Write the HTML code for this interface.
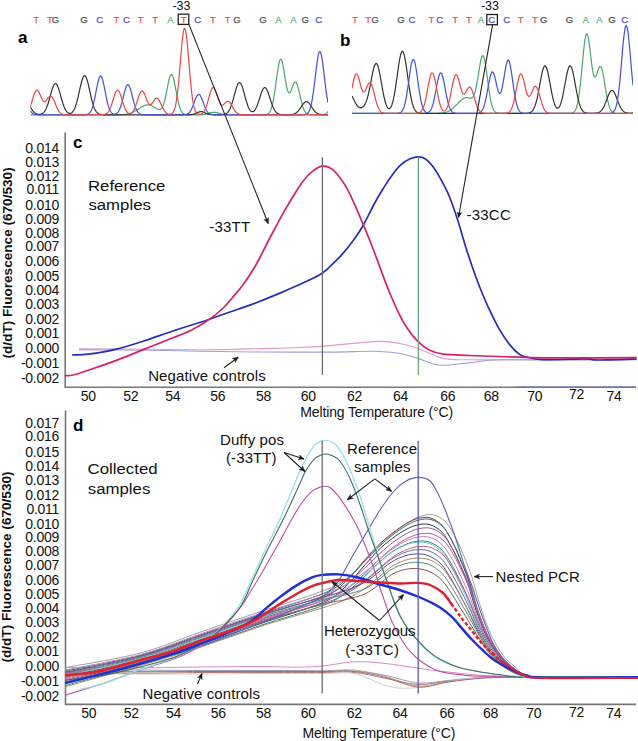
<!DOCTYPE html>
<html><head><meta charset="utf-8"><style>
html,body{margin:0;padding:0;background:#fff;width:638px;height:741px;overflow:hidden}
svg text{font-family:"Liberation Sans",sans-serif}
</style></head><body>
<svg width="638" height="741" viewBox="0 0 638 741" style="position:absolute;left:0;top:0">
<defs><clipPath id="ca"><rect x="30.5" y="0" width="297.5" height="120"/></clipPath><clipPath id="cb"><rect x="352" y="0" width="281" height="120"/></clipPath><marker id="ah" viewBox="0 0 10 10" refX="9.5" refY="5" markerWidth="5.4" markerHeight="5.4" orient="auto-start-reverse"><path d="M0,0.8 L10,5 L0,9.2 L2.8,5 z" fill="#1a1a1a" stroke="#1a1a1a" stroke-width="0.6" stroke-linejoin="round"/></marker></defs>
<path clip-path="url(#ca)" d="M29.0,114.8 L29.5,114.8 L30.0,114.8 L30.5,114.8 L31.0,114.8 L31.5,114.8 L32.0,114.8 L32.5,114.8 L33.0,114.8 L33.5,114.8 L34.0,114.8 L34.5,114.8 L35.0,114.8 L35.5,114.8 L36.0,114.8 L36.5,114.8 L37.0,114.8 L37.5,114.8 L38.0,114.8 L38.5,114.8 L39.0,114.8 L39.5,114.8 L40.0,114.8 L40.5,114.8 L41.0,114.8 L41.5,114.8 L42.0,114.8 L42.5,114.8 L43.0,114.8 L43.5,114.8 L44.0,114.8 L44.5,114.8 L45.0,114.8 L45.5,114.8 L46.0,114.8 L46.5,114.8 L47.0,114.8 L47.5,114.8 L48.0,114.8 L48.5,114.8 L49.0,114.8 L49.5,114.8 L50.0,114.8 L50.5,114.8 L51.0,114.8 L51.5,114.8 L52.0,114.8 L52.5,114.8 L53.0,114.8 L53.5,114.8 L54.0,114.8 L54.5,114.8 L55.0,114.8 L55.5,114.8 L56.0,114.8 L56.5,114.8 L57.0,114.8 L57.5,114.8 L58.0,114.8 L58.5,114.8 L59.0,114.8 L59.5,114.8 L60.0,114.8 L60.5,114.8 L61.0,114.8 L61.5,114.8 L62.0,114.8 L62.5,114.8 L63.0,114.8 L63.5,114.8 L64.0,114.8 L64.5,114.8 L65.0,114.8 L65.5,114.8 L66.0,114.8 L66.5,114.8 L67.0,114.8 L67.5,114.8 L68.0,114.8 L68.5,114.8 L69.0,114.8 L69.5,114.8 L70.0,114.8 L70.5,114.8 L71.0,114.8 L71.5,114.8 L72.0,114.8 L72.5,114.8 L73.0,114.8 L73.5,114.8 L74.0,114.8 L74.5,114.8 L75.0,114.8 L75.5,114.8 L76.0,114.8 L76.5,114.8 L77.0,114.8 L77.5,114.8 L78.0,114.8 L78.5,114.8 L79.0,114.8 L79.5,114.8 L80.0,114.8 L80.5,114.8 L81.0,114.8 L81.5,114.8 L82.0,114.8 L82.5,114.8 L83.0,114.8 L83.5,114.8 L84.0,114.8 L84.5,114.8 L85.0,114.8 L85.5,114.8 L86.0,114.8 L86.5,114.8 L87.0,114.8 L87.5,114.8 L88.0,114.8 L88.5,114.8 L89.0,114.8 L89.5,114.8 L90.0,114.8 L90.5,114.8 L91.0,114.8 L91.5,114.8 L92.0,114.8 L92.5,114.8 L93.0,114.8 L93.5,114.8 L94.0,114.8 L94.5,114.8 L95.0,114.8 L95.5,114.8 L96.0,114.8 L96.5,114.8 L97.0,114.8 L97.5,114.8 L98.0,114.8 L98.5,114.8 L99.0,114.8 L99.5,114.8 L100.0,114.8 L100.5,114.8 L101.0,114.8 L101.5,114.8 L102.0,114.8 L102.5,114.8 L103.0,114.8 L103.5,114.8 L104.0,114.8 L104.5,114.8 L105.0,114.8 L105.5,114.8 L106.0,114.8 L106.5,114.8 L107.0,114.8 L107.5,114.8 L108.0,114.8 L108.5,114.8 L109.0,114.8 L109.5,114.8 L110.0,114.8 L110.5,114.8 L111.0,114.8 L111.5,114.8 L112.0,114.8 L112.5,114.8 L113.0,114.8 L113.5,114.8 L114.0,114.8 L114.5,114.8 L115.0,114.8 L115.5,114.8 L116.0,114.8 L116.5,114.8 L117.0,114.8 L117.5,114.8 L118.0,114.8 L118.5,114.7 L119.0,114.7 L119.5,114.7 L120.0,114.7 L120.5,114.7 L121.0,114.7 L121.5,114.7 L122.0,114.6 L122.5,114.6 L123.0,114.6 L123.5,114.5 L124.0,114.5 L124.5,114.4 L125.0,114.4 L125.5,114.3 L126.0,114.3 L126.5,114.2 L127.0,114.1 L127.5,114.0 L128.0,113.9 L128.5,113.8 L129.0,113.7 L129.5,113.5 L130.0,113.4 L130.5,113.2 L131.0,113.0 L131.5,112.8 L132.0,112.6 L132.5,112.4 L133.0,112.2 L133.5,111.9 L134.0,111.7 L134.5,111.4 L135.0,111.1 L135.5,110.8 L136.0,110.5 L136.5,110.2 L137.0,109.9 L137.5,109.6 L138.0,109.3 L138.5,108.9 L139.0,108.6 L139.5,108.3 L140.0,107.9 L140.5,107.6 L141.0,107.3 L141.5,107.0 L142.0,106.7 L142.5,106.4 L143.0,106.2 L143.5,105.9 L144.0,105.7 L144.5,105.5 L145.0,105.3 L145.5,105.2 L146.0,105.1 L146.5,105.0 L147.0,104.9 L147.5,104.9 L148.0,104.9 L148.5,104.9 L149.0,105.0 L149.5,105.1 L150.0,105.2 L150.5,105.4 L151.0,105.5 L151.5,105.7 L152.0,106.0 L152.5,106.2 L153.0,106.5 L153.5,106.7 L154.0,107.0 L154.5,107.3 L155.0,107.6 L155.5,107.9 L156.0,108.2 L156.5,108.5 L157.0,108.8 L157.5,109.0 L158.0,109.2 L158.5,109.4 L159.0,109.5 L159.5,109.5 L160.0,109.4 L160.5,109.2 L161.0,108.8 L161.5,108.4 L162.0,107.7 L162.5,106.8 L163.0,105.7 L163.5,104.4 L164.0,102.9 L164.5,101.1 L165.0,99.1 L165.5,97.0 L166.0,94.6 L166.5,92.1 L167.0,89.5 L167.5,87.0 L168.0,84.5 L168.5,82.1 L169.0,79.9 L169.5,78.0 L170.0,76.5 L170.5,75.4 L171.0,74.7 L171.5,74.5 L172.0,74.8 L172.5,75.6 L173.0,76.8 L173.5,78.4 L174.0,80.4 L174.5,82.7 L175.0,85.1 L175.5,87.8 L176.0,90.5 L176.5,93.2 L177.0,95.8 L177.5,98.3 L178.0,100.7 L178.5,102.8 L179.0,104.8 L179.5,106.5 L180.0,108.1 L180.5,109.4 L181.0,110.5 L181.5,111.4 L182.0,112.2 L182.5,112.8 L183.0,113.3 L183.5,113.7 L184.0,114.0 L184.5,114.2 L185.0,114.4 L185.5,114.5 L186.0,114.6 L186.5,114.6 L187.0,114.7 L187.5,114.7 L188.0,114.8 L188.5,114.8 L189.0,114.8 L189.5,114.8 L190.0,114.8 L190.5,114.8 L191.0,114.8 L191.5,114.8 L192.0,114.8 L192.5,114.8 L193.0,114.8 L193.5,114.8 L194.0,114.8 L194.5,114.8 L195.0,114.8 L195.5,114.8 L196.0,114.8 L196.5,114.8 L197.0,114.8 L197.5,114.8 L198.0,114.8 L198.5,114.8 L199.0,114.8 L199.5,114.8 L200.0,114.8 L200.5,114.7 L201.0,114.7 L201.5,114.7 L202.0,114.7 L202.5,114.6 L203.0,114.6 L203.5,114.5 L204.0,114.5 L204.5,114.4 L205.0,114.3 L205.5,114.2 L206.0,114.1 L206.5,114.0 L207.0,113.9 L207.5,113.7 L208.0,113.6 L208.5,113.4 L209.0,113.3 L209.5,113.1 L210.0,113.0 L210.5,112.8 L211.0,112.7 L211.5,112.6 L212.0,112.5 L212.5,112.4 L213.0,112.3 L213.5,112.3 L214.0,112.3 L214.5,112.3 L215.0,112.3 L215.5,112.4 L216.0,112.5 L216.5,112.6 L217.0,112.7 L217.5,112.8 L218.0,113.0 L218.5,113.1 L219.0,113.3 L219.5,113.4 L220.0,113.6 L220.5,113.7 L221.0,113.9 L221.5,114.0 L222.0,114.1 L222.5,114.2 L223.0,114.3 L223.5,114.4 L224.0,114.5 L224.5,114.5 L225.0,114.6 L225.5,114.6 L226.0,114.7 L226.5,114.7 L227.0,114.7 L227.5,114.7 L228.0,114.8 L228.5,114.8 L229.0,114.8 L229.5,114.8 L230.0,114.8 L230.5,114.8 L231.0,114.8 L231.5,114.8 L232.0,114.8 L232.5,114.8 L233.0,114.8 L233.5,114.8 L234.0,114.8 L234.5,114.8 L235.0,114.8 L235.5,114.8 L236.0,114.8 L236.5,114.8 L237.0,114.8 L237.5,114.8 L238.0,114.8 L238.5,114.8 L239.0,114.8 L239.5,114.8 L240.0,114.8 L240.5,114.8 L241.0,114.8 L241.5,114.8 L242.0,114.8 L242.5,114.8 L243.0,114.8 L243.5,114.8 L244.0,114.8 L244.5,114.8 L245.0,114.8 L245.5,114.8 L246.0,114.8 L246.5,114.8 L247.0,114.8 L247.5,114.8 L248.0,114.8 L248.5,114.8 L249.0,114.8 L249.5,114.8 L250.0,114.8 L250.5,114.8 L251.0,114.8 L251.5,114.8 L252.0,114.8 L252.5,114.8 L253.0,114.8 L253.5,114.8 L254.0,114.8 L254.5,114.8 L255.0,114.8 L255.5,114.8 L256.0,114.8 L256.5,114.8 L257.0,114.8 L257.5,114.8 L258.0,114.8 L258.5,114.8 L259.0,114.8 L259.5,114.8 L260.0,114.8 L260.5,114.8 L261.0,114.8 L261.5,114.8 L262.0,114.8 L262.5,114.8 L263.0,114.8 L263.5,114.8 L264.0,114.7 L264.5,114.7 L265.0,114.7 L265.5,114.6 L266.0,114.5 L266.5,114.4 L267.0,114.3 L267.5,114.0 L268.0,113.8 L268.5,113.4 L269.0,112.9 L269.5,112.3 L270.0,111.5 L270.5,110.6 L271.0,109.4 L271.5,107.9 L272.0,106.3 L272.5,104.3 L273.0,102.0 L273.5,99.4 L274.0,96.5 L274.5,93.4 L275.0,90.0 L275.5,86.4 L276.0,82.7 L276.5,79.0 L277.0,75.3 L277.5,71.8 L278.0,68.5 L278.5,65.6 L279.0,63.2 L279.5,61.3 L280.0,60.0 L280.5,59.3 L281.0,59.3 L281.5,60.0 L282.0,61.3 L282.5,63.1 L283.0,65.5 L283.5,68.2 L284.0,71.1 L284.5,74.3 L285.0,77.5 L285.5,80.5 L286.0,83.4 L286.5,86.1 L287.0,88.3 L287.5,90.2 L288.0,91.5 L288.5,92.4 L289.0,92.9 L289.5,92.9 L290.0,92.4 L290.5,91.7 L291.0,90.6 L291.5,89.4 L292.0,88.0 L292.5,86.6 L293.0,85.3 L293.5,84.1 L294.0,83.1 L294.5,82.4 L295.0,82.1 L295.5,82.1 L296.0,82.4 L296.5,83.1 L297.0,84.2 L297.5,85.6 L298.0,87.3 L298.5,89.1 L299.0,91.2 L299.5,93.3 L300.0,95.5 L300.5,97.7 L301.0,99.8 L301.5,101.8 L302.0,103.7 L302.5,105.4 L303.0,107.0 L303.5,108.4 L304.0,109.6 L304.5,110.6 L305.0,111.5 L305.5,112.2 L306.0,112.8 L306.5,113.2 L307.0,113.6 L307.5,113.9 L308.0,114.2 L308.5,114.3 L309.0,114.5 L309.5,114.6 L310.0,114.6 L310.5,114.7 L311.0,114.7 L311.5,114.7 L312.0,114.8 L312.5,114.8 L313.0,114.8 L313.5,114.8 L314.0,114.8 L314.5,114.8 L315.0,114.8 L315.5,114.8 L316.0,114.8 L316.5,114.8 L317.0,114.8 L317.5,114.8 L318.0,114.8 L318.5,114.8 L319.0,114.8 L319.5,114.8 L320.0,114.8 L320.5,114.8 L321.0,114.8 L321.5,114.8 L322.0,114.7 L322.5,114.7 L323.0,114.6 L323.5,114.6 L324.0,114.5 L324.5,114.4 L325.0,114.2 L325.5,114.0 L326.0,113.7 L326.5,113.3 L327.0,112.8 L327.5,112.2 L328.0,111.4" fill="none" stroke="#48a868" stroke-width="1.2"/>
<path clip-path="url(#ca)" d="M29.0,104.1 L29.5,105.1 L30.0,106.1 L30.5,107.0 L31.0,107.9 L31.5,108.8 L32.0,109.6 L32.5,110.3 L33.0,111.0 L33.5,111.6 L34.0,112.1 L34.5,112.6 L35.0,113.0 L35.5,113.3 L36.0,113.6 L36.5,113.8 L37.0,114.0 L37.5,114.1 L38.0,114.2 L38.5,114.3 L39.0,114.3 L39.5,114.3 L40.0,114.3 L40.5,114.2 L41.0,114.1 L41.5,113.9 L42.0,113.7 L42.5,113.4 L43.0,113.0 L43.5,112.6 L44.0,112.1 L44.5,111.5 L45.0,110.7 L45.5,109.9 L46.0,108.9 L46.5,107.8 L47.0,106.6 L47.5,105.2 L48.0,103.8 L48.5,102.2 L49.0,100.5 L49.5,98.8 L50.0,97.0 L50.5,95.1 L51.0,93.3 L51.5,91.6 L52.0,89.9 L52.5,88.4 L53.0,87.0 L53.5,85.8 L54.0,84.9 L54.5,84.2 L55.0,83.7 L55.5,83.6 L56.0,83.7 L56.5,84.2 L57.0,84.9 L57.5,85.8 L58.0,87.0 L58.5,88.4 L59.0,89.9 L59.5,91.6 L60.0,93.3 L60.5,95.1 L61.0,97.0 L61.5,98.8 L62.0,100.5 L62.5,102.2 L63.0,103.8 L63.5,105.2 L64.0,106.6 L64.5,107.8 L65.0,108.9 L65.5,109.8 L66.0,110.7 L66.5,111.4 L67.0,112.0 L67.5,112.4 L68.0,112.8 L68.5,113.1 L69.0,113.3 L69.5,113.4 L70.0,113.4 L70.5,113.3 L71.0,113.2 L71.5,112.9 L72.0,112.5 L72.5,112.0 L73.0,111.4 L73.5,110.7 L74.0,109.8 L74.5,108.8 L75.0,107.7 L75.5,106.3 L76.0,104.8 L76.5,103.2 L77.0,101.4 L77.5,99.4 L78.0,97.3 L78.5,95.1 L79.0,92.9 L79.5,90.6 L80.0,88.4 L80.5,86.1 L81.0,84.0 L81.5,82.1 L82.0,80.3 L82.5,78.8 L83.0,77.5 L83.5,76.6 L84.0,76.0 L84.5,75.7 L85.0,75.8 L85.5,76.3 L86.0,77.1 L86.5,78.2 L87.0,79.7 L87.5,81.3 L88.0,83.2 L88.5,85.3 L89.0,87.5 L89.5,89.7 L90.0,92.0 L90.5,94.3 L91.0,96.5 L91.5,98.6 L92.0,100.6 L92.5,102.5 L93.0,104.2 L93.5,105.8 L94.0,107.2 L94.5,108.4 L95.0,109.5 L95.5,110.5 L96.0,111.3 L96.5,111.9 L97.0,112.5 L97.5,113.0 L98.0,113.4 L98.5,113.7 L99.0,114.0 L99.5,114.2 L100.0,114.3 L100.5,114.4 L101.0,114.5 L101.5,114.6 L102.0,114.7 L102.5,114.7 L103.0,114.7 L103.5,114.7 L104.0,114.8 L104.5,114.8 L105.0,114.8 L105.5,114.8 L106.0,114.8 L106.5,114.8 L107.0,114.8 L107.5,114.8 L108.0,114.8 L108.5,114.8 L109.0,114.8 L109.5,114.8 L110.0,114.8 L110.5,114.8 L111.0,114.8 L111.5,114.8 L112.0,114.8 L112.5,114.8 L113.0,114.8 L113.5,114.8 L114.0,114.8 L114.5,114.8 L115.0,114.8 L115.5,114.8 L116.0,114.8 L116.5,114.8 L117.0,114.8 L117.5,114.8 L118.0,114.8 L118.5,114.8 L119.0,114.8 L119.5,114.8 L120.0,114.8 L120.5,114.8 L121.0,114.8 L121.5,114.8 L122.0,114.8 L122.5,114.8 L123.0,114.8 L123.5,114.8 L124.0,114.8 L124.5,114.8 L125.0,114.8 L125.5,114.8 L126.0,114.8 L126.5,114.8 L127.0,114.8 L127.5,114.8 L128.0,114.8 L128.5,114.8 L129.0,114.8 L129.5,114.8 L130.0,114.8 L130.5,114.8 L131.0,114.8 L131.5,114.8 L132.0,114.8 L132.5,114.8 L133.0,114.8 L133.5,114.8 L134.0,114.8 L134.5,114.8 L135.0,114.8 L135.5,114.8 L136.0,114.8 L136.5,114.8 L137.0,114.8 L137.5,114.8 L138.0,114.8 L138.5,114.8 L139.0,114.8 L139.5,114.8 L140.0,114.8 L140.5,114.8 L141.0,114.8 L141.5,114.8 L142.0,114.8 L142.5,114.8 L143.0,114.8 L143.5,114.8 L144.0,114.8 L144.5,114.8 L145.0,114.8 L145.5,114.8 L146.0,114.8 L146.5,114.8 L147.0,114.8 L147.5,114.8 L148.0,114.8 L148.5,114.8 L149.0,114.8 L149.5,114.8 L150.0,114.8 L150.5,114.8 L151.0,114.8 L151.5,114.8 L152.0,114.8 L152.5,114.8 L153.0,114.8 L153.5,114.8 L154.0,114.8 L154.5,114.8 L155.0,114.8 L155.5,114.8 L156.0,114.8 L156.5,114.8 L157.0,114.8 L157.5,114.8 L158.0,114.8 L158.5,114.8 L159.0,114.8 L159.5,114.8 L160.0,114.8 L160.5,114.8 L161.0,114.8 L161.5,114.8 L162.0,114.8 L162.5,114.8 L163.0,114.8 L163.5,114.8 L164.0,114.8 L164.5,114.8 L165.0,114.8 L165.5,114.8 L166.0,114.8 L166.5,114.8 L167.0,114.8 L167.5,114.8 L168.0,114.8 L168.5,114.8 L169.0,114.8 L169.5,114.8 L170.0,114.8 L170.5,114.8 L171.0,114.8 L171.5,114.8 L172.0,114.8 L172.5,114.8 L173.0,114.8 L173.5,114.8 L174.0,114.8 L174.5,114.8 L175.0,114.8 L175.5,114.8 L176.0,114.8 L176.5,114.8 L177.0,114.8 L177.5,114.8 L178.0,114.8 L178.5,114.8 L179.0,114.8 L179.5,114.8 L180.0,114.8 L180.5,114.8 L181.0,114.8 L181.5,114.8 L182.0,114.8 L182.5,114.8 L183.0,114.8 L183.5,114.8 L184.0,114.8 L184.5,114.8 L185.0,114.8 L185.5,114.8 L186.0,114.8 L186.5,114.8 L187.0,114.8 L187.5,114.8 L188.0,114.8 L188.5,114.8 L189.0,114.8 L189.5,114.7 L190.0,114.7 L190.5,114.7 L191.0,114.7 L191.5,114.6 L192.0,114.5 L192.5,114.5 L193.0,114.4 L193.5,114.2 L194.0,114.1 L194.5,113.9 L195.0,113.8 L195.5,113.6 L196.0,113.3 L196.5,113.1 L197.0,112.9 L197.5,112.6 L198.0,112.4 L198.5,112.2 L199.0,112.0 L199.5,111.8 L200.0,111.7 L200.5,111.6 L201.0,111.6 L201.5,111.6 L202.0,111.7 L202.5,111.8 L203.0,112.0 L203.5,112.2 L204.0,112.4 L204.5,112.6 L205.0,112.9 L205.5,113.1 L206.0,113.3 L206.5,113.6 L207.0,113.8 L207.5,113.9 L208.0,114.1 L208.5,114.2 L209.0,114.4 L209.5,114.5 L210.0,114.5 L210.5,114.6 L211.0,114.7 L211.5,114.7 L212.0,114.7 L212.5,114.7 L213.0,114.8 L213.5,114.8 L214.0,114.8 L214.5,114.8 L215.0,114.8 L215.5,114.8 L216.0,114.8 L216.5,114.8 L217.0,114.8 L217.5,114.8 L218.0,114.8 L218.5,114.8 L219.0,114.8 L219.5,114.8 L220.0,114.8 L220.5,114.8 L221.0,114.7 L221.5,114.7 L222.0,114.7 L222.5,114.6 L223.0,114.6 L223.5,114.5 L224.0,114.4 L224.5,114.3 L225.0,114.1 L225.5,113.9 L226.0,113.7 L226.5,113.4 L227.0,113.0 L227.5,112.6 L228.0,112.0 L228.5,111.4 L229.0,110.6 L229.5,109.7 L230.0,108.7 L230.5,107.6 L231.0,106.3 L231.5,104.9 L232.0,103.4 L232.5,101.8 L233.0,100.1 L233.5,98.3 L234.0,96.4 L234.5,94.5 L235.0,92.7 L235.5,90.8 L236.0,89.1 L236.5,87.5 L237.0,86.1 L237.5,84.9 L238.0,83.9 L238.5,83.2 L239.0,82.7 L239.5,82.6 L240.0,82.7 L240.5,83.2 L241.0,83.9 L241.5,84.9 L242.0,86.1 L242.5,87.5 L243.0,89.1 L243.5,90.8 L244.0,92.6 L244.5,94.5 L245.0,96.4 L245.5,98.2 L246.0,100.0 L246.5,101.7 L247.0,103.3 L247.5,104.8 L248.0,106.2 L248.5,107.4 L249.0,108.5 L249.5,109.4 L250.0,110.1 L250.5,110.7 L251.0,111.2 L251.5,111.5 L252.0,111.7 L252.5,111.7 L253.0,111.6 L253.5,111.4 L254.0,111.0 L254.5,110.5 L255.0,109.8 L255.5,109.0 L256.0,108.1 L256.5,107.0 L257.0,105.9 L257.5,104.6 L258.0,103.2 L258.5,101.7 L259.0,100.2 L259.5,98.6 L260.0,97.0 L260.5,95.5 L261.0,94.0 L261.5,92.6 L262.0,91.3 L262.5,90.1 L263.0,89.2 L263.5,88.4 L264.0,87.9 L264.5,87.6 L265.0,87.6 L265.5,87.8 L266.0,88.3 L266.5,89.0 L267.0,89.9 L267.5,91.0 L268.0,92.3 L268.5,93.7 L269.0,95.2 L269.5,96.7 L270.0,98.3 L270.5,99.9 L271.0,101.4 L271.5,102.9 L272.0,104.4 L272.5,105.7 L273.0,107.0 L273.5,108.1 L274.0,109.1 L274.5,110.0 L275.0,110.8 L275.5,111.5 L276.0,112.1 L276.5,112.6 L277.0,113.1 L277.5,113.4 L278.0,113.7 L278.5,114.0 L279.0,114.1 L279.5,114.3 L280.0,114.4 L280.5,114.5 L281.0,114.6 L281.5,114.6 L282.0,114.7 L282.5,114.7 L283.0,114.7 L283.5,114.8 L284.0,114.8 L284.5,114.8 L285.0,114.8 L285.5,114.8 L286.0,114.8 L286.5,114.8 L287.0,114.8 L287.5,114.8 L288.0,114.8 L288.5,114.8 L289.0,114.8 L289.5,114.7 L290.0,114.7 L290.5,114.7 L291.0,114.6 L291.5,114.6 L292.0,114.5 L292.5,114.4 L293.0,114.3 L293.5,114.2 L294.0,114.0 L294.5,113.8 L295.0,113.6 L295.5,113.3 L296.0,113.0 L296.5,112.7 L297.0,112.2 L297.5,111.8 L298.0,111.2 L298.5,110.7 L299.0,110.0 L299.5,109.4 L300.0,108.7 L300.5,107.9 L301.0,107.2 L301.5,106.4 L302.0,105.6 L302.5,104.9 L303.0,104.2 L303.5,103.6 L304.0,103.0 L304.5,102.5 L305.0,102.2 L305.5,101.9 L306.0,101.7 L306.5,101.7 L307.0,101.8 L307.5,102.0 L308.0,102.3 L308.5,102.7 L309.0,103.2 L309.5,103.8 L310.0,104.5 L310.5,105.2 L311.0,105.9 L311.5,106.7 L312.0,107.5 L312.5,108.2 L313.0,108.9 L313.5,109.6 L314.0,110.3 L314.5,110.9 L315.0,111.5 L315.5,112.0 L316.0,112.4 L316.5,112.8 L317.0,113.2 L317.5,113.5 L318.0,113.7 L318.5,113.9 L319.0,114.1 L319.5,114.3 L320.0,114.4 L320.5,114.5 L321.0,114.5 L321.5,114.6 L322.0,114.7 L322.5,114.7 L323.0,114.7 L323.5,114.7 L324.0,114.8 L324.5,114.8 L325.0,114.8 L325.5,114.8 L326.0,114.8 L326.5,114.8 L327.0,114.8 L327.5,114.8 L328.0,114.8" fill="none" stroke="#333333" stroke-width="1.2"/>
<path clip-path="url(#ca)" d="M29.0,108.6 L29.5,109.5 L30.0,110.3 L30.5,111.1 L31.0,111.7 L31.5,112.3 L32.0,112.8 L32.5,113.2 L33.0,113.5 L33.5,113.8 L34.0,114.0 L34.5,114.2 L35.0,114.4 L35.5,114.5 L36.0,114.6 L36.5,114.6 L37.0,114.7 L37.5,114.7 L38.0,114.7 L38.5,114.8 L39.0,114.8 L39.5,114.8 L40.0,114.8 L40.5,114.8 L41.0,114.8 L41.5,114.8 L42.0,114.8 L42.5,114.8 L43.0,114.8 L43.5,114.8 L44.0,114.8 L44.5,114.8 L45.0,114.8 L45.5,114.8 L46.0,114.8 L46.5,114.8 L47.0,114.8 L47.5,114.8 L48.0,114.8 L48.5,114.8 L49.0,114.8 L49.5,114.8 L50.0,114.8 L50.5,114.8 L51.0,114.8 L51.5,114.8 L52.0,114.8 L52.5,114.8 L53.0,114.8 L53.5,114.8 L54.0,114.8 L54.5,114.8 L55.0,114.8 L55.5,114.8 L56.0,114.8 L56.5,114.8 L57.0,114.8 L57.5,114.8 L58.0,114.8 L58.5,114.8 L59.0,114.8 L59.5,114.8 L60.0,114.8 L60.5,114.8 L61.0,114.8 L61.5,114.8 L62.0,114.8 L62.5,114.8 L63.0,114.8 L63.5,114.8 L64.0,114.8 L64.5,114.8 L65.0,114.8 L65.5,114.8 L66.0,114.8 L66.5,114.8 L67.0,114.8 L67.5,114.8 L68.0,114.8 L68.5,114.8 L69.0,114.8 L69.5,114.8 L70.0,114.8 L70.5,114.8 L71.0,114.8 L71.5,114.8 L72.0,114.8 L72.5,114.8 L73.0,114.8 L73.5,114.8 L74.0,114.8 L74.5,114.8 L75.0,114.8 L75.5,114.8 L76.0,114.8 L76.5,114.8 L77.0,114.8 L77.5,114.8 L78.0,114.8 L78.5,114.8 L79.0,114.8 L79.5,114.8 L80.0,114.8 L80.5,114.8 L81.0,114.8 L81.5,114.8 L82.0,114.8 L82.5,114.8 L83.0,114.8 L83.5,114.8 L84.0,114.8 L84.5,114.7 L85.0,114.7 L85.5,114.7 L86.0,114.6 L86.5,114.5 L87.0,114.4 L87.5,114.2 L88.0,114.0 L88.5,113.8 L89.0,113.4 L89.5,112.9 L90.0,112.4 L90.5,111.7 L91.0,110.8 L91.5,109.8 L92.0,108.6 L92.5,107.1 L93.0,105.5 L93.5,103.6 L94.0,101.6 L94.5,99.3 L95.0,96.9 L95.5,94.4 L96.0,91.8 L96.5,89.2 L97.0,86.6 L97.5,84.2 L98.0,82.0 L98.5,80.0 L99.0,78.4 L99.5,77.1 L100.0,76.3 L100.5,76.0 L101.0,76.2 L101.5,76.8 L102.0,77.8 L102.5,79.3 L103.0,81.1 L103.5,83.3 L104.0,85.6 L104.5,88.1 L105.0,90.7 L105.5,93.4 L106.0,95.9 L106.5,98.4 L107.0,100.7 L107.5,102.8 L108.0,104.8 L108.5,106.5 L109.0,108.0 L109.5,109.3 L110.0,110.4 L110.5,111.3 L111.0,112.1 L111.5,112.7 L112.0,113.2 L112.5,113.5 L113.0,113.8 L113.5,114.0 L114.0,114.1 L114.5,114.1 L115.0,114.1 L115.5,114.0 L116.0,113.8 L116.5,113.5 L117.0,113.1 L117.5,112.7 L118.0,112.1 L118.5,111.4 L119.0,110.5 L119.5,109.5 L120.0,108.3 L120.5,107.0 L121.0,105.5 L121.5,103.9 L122.0,102.1 L122.5,100.1 L123.0,98.2 L123.5,96.1 L124.0,94.1 L124.5,92.2 L125.0,90.3 L125.5,88.7 L126.0,87.3 L126.5,86.1 L127.0,85.3 L127.5,84.8 L128.0,84.7 L128.5,85.0 L129.0,85.6 L129.5,86.5 L130.0,87.8 L130.5,89.3 L131.0,91.1 L131.5,92.9 L132.0,94.9 L132.5,96.9 L133.0,99.0 L133.5,100.9 L134.0,102.8 L134.5,104.5 L135.0,106.1 L135.5,107.6 L136.0,108.8 L136.5,110.0 L137.0,110.9 L137.5,111.7 L138.0,112.4 L138.5,112.9 L139.0,113.4 L139.5,113.7 L140.0,114.0 L140.5,114.2 L141.0,114.4 L141.5,114.5 L142.0,114.6 L142.5,114.6 L143.0,114.7 L143.5,114.7 L144.0,114.7 L144.5,114.8 L145.0,114.8 L145.5,114.8 L146.0,114.8 L146.5,114.8 L147.0,114.8 L147.5,114.8 L148.0,114.8 L148.5,114.8 L149.0,114.8 L149.5,114.8 L150.0,114.8 L150.5,114.8 L151.0,114.8 L151.5,114.8 L152.0,114.8 L152.5,114.8 L153.0,114.8 L153.5,114.8 L154.0,114.8 L154.5,114.8 L155.0,114.8 L155.5,114.8 L156.0,114.8 L156.5,114.8 L157.0,114.8 L157.5,114.8 L158.0,114.8 L158.5,114.8 L159.0,114.8 L159.5,114.8 L160.0,114.8 L160.5,114.8 L161.0,114.8 L161.5,114.8 L162.0,114.8 L162.5,114.8 L163.0,114.8 L163.5,114.8 L164.0,114.8 L164.5,114.8 L165.0,114.8 L165.5,114.8 L166.0,114.8 L166.5,114.8 L167.0,114.8 L167.5,114.8 L168.0,114.8 L168.5,114.8 L169.0,114.8 L169.5,114.8 L170.0,114.8 L170.5,114.8 L171.0,114.8 L171.5,114.8 L172.0,114.8 L172.5,114.8 L173.0,114.8 L173.5,114.8 L174.0,114.8 L174.5,114.8 L175.0,114.8 L175.5,114.8 L176.0,114.8 L176.5,114.8 L177.0,114.8 L177.5,114.8 L178.0,114.8 L178.5,114.8 L179.0,114.8 L179.5,114.8 L180.0,114.8 L180.5,114.8 L181.0,114.8 L181.5,114.8 L182.0,114.8 L182.5,114.8 L183.0,114.8 L183.5,114.7 L184.0,114.7 L184.5,114.7 L185.0,114.6 L185.5,114.5 L186.0,114.4 L186.5,114.3 L187.0,114.1 L187.5,113.9 L188.0,113.6 L188.5,113.2 L189.0,112.8 L189.5,112.3 L190.0,111.7 L190.5,110.9 L191.0,110.1 L191.5,109.1 L192.0,108.1 L192.5,106.9 L193.0,105.7 L193.5,104.3 L194.0,103.0 L194.5,101.6 L195.0,100.3 L195.5,99.0 L196.0,97.8 L196.5,96.7 L197.0,95.8 L197.5,95.1 L198.0,94.6 L198.5,94.4 L199.0,94.4 L199.5,94.7 L200.0,95.2 L200.5,96.0 L201.0,96.9 L201.5,98.0 L202.0,99.2 L202.5,100.5 L203.0,101.9 L203.5,103.3 L204.0,104.6 L204.5,105.9 L205.0,107.1 L205.5,108.3 L206.0,109.3 L206.5,110.3 L207.0,111.1 L207.5,111.8 L208.0,112.4 L208.5,112.9 L209.0,113.3 L209.5,113.7 L210.0,113.9 L210.5,114.1 L211.0,114.3 L211.5,114.4 L212.0,114.5 L212.5,114.6 L213.0,114.7 L213.5,114.7 L214.0,114.7 L214.5,114.8 L215.0,114.8 L215.5,114.8 L216.0,114.8 L216.5,114.8 L217.0,114.8 L217.5,114.8 L218.0,114.8 L218.5,114.8 L219.0,114.8 L219.5,114.8 L220.0,114.8 L220.5,114.8 L221.0,114.8 L221.5,114.8 L222.0,114.8 L222.5,114.8 L223.0,114.8 L223.5,114.8 L224.0,114.8 L224.5,114.8 L225.0,114.8 L225.5,114.8 L226.0,114.8 L226.5,114.8 L227.0,114.8 L227.5,114.8 L228.0,114.8 L228.5,114.8 L229.0,114.8 L229.5,114.8 L230.0,114.8 L230.5,114.8 L231.0,114.8 L231.5,114.8 L232.0,114.8 L232.5,114.8 L233.0,114.8 L233.5,114.8 L234.0,114.8 L234.5,114.8 L235.0,114.8 L235.5,114.8 L236.0,114.8 L236.5,114.8 L237.0,114.8 L237.5,114.8 L238.0,114.8 L238.5,114.8 L239.0,114.8 L239.5,114.8 L240.0,114.8 L240.5,114.8 L241.0,114.8 L241.5,114.8 L242.0,114.8 L242.5,114.8 L243.0,114.8 L243.5,114.8 L244.0,114.8 L244.5,114.8 L245.0,114.8 L245.5,114.8 L246.0,114.8 L246.5,114.8 L247.0,114.8 L247.5,114.8 L248.0,114.8 L248.5,114.8 L249.0,114.8 L249.5,114.8 L250.0,114.8 L250.5,114.8 L251.0,114.8 L251.5,114.8 L252.0,114.8 L252.5,114.8 L253.0,114.8 L253.5,114.8 L254.0,114.8 L254.5,114.8 L255.0,114.8 L255.5,114.8 L256.0,114.8 L256.5,114.8 L257.0,114.8 L257.5,114.8 L258.0,114.8 L258.5,114.8 L259.0,114.8 L259.5,114.8 L260.0,114.8 L260.5,114.8 L261.0,114.8 L261.5,114.8 L262.0,114.8 L262.5,114.8 L263.0,114.8 L263.5,114.8 L264.0,114.8 L264.5,114.8 L265.0,114.8 L265.5,114.8 L266.0,114.8 L266.5,114.8 L267.0,114.8 L267.5,114.8 L268.0,114.8 L268.5,114.8 L269.0,114.8 L269.5,114.8 L270.0,114.8 L270.5,114.8 L271.0,114.8 L271.5,114.8 L272.0,114.8 L272.5,114.8 L273.0,114.8 L273.5,114.8 L274.0,114.8 L274.5,114.8 L275.0,114.8 L275.5,114.8 L276.0,114.8 L276.5,114.8 L277.0,114.8 L277.5,114.8 L278.0,114.8 L278.5,114.8 L279.0,114.8 L279.5,114.8 L280.0,114.8 L280.5,114.8 L281.0,114.8 L281.5,114.8 L282.0,114.8 L282.5,114.8 L283.0,114.8 L283.5,114.8 L284.0,114.8 L284.5,114.8 L285.0,114.8 L285.5,114.8 L286.0,114.8 L286.5,114.8 L287.0,114.8 L287.5,114.8 L288.0,114.8 L288.5,114.8 L289.0,114.8 L289.5,114.8 L290.0,114.8 L290.5,114.8 L291.0,114.8 L291.5,114.8 L292.0,114.8 L292.5,114.8 L293.0,114.8 L293.5,114.8 L294.0,114.8 L294.5,114.8 L295.0,114.8 L295.5,114.8 L296.0,114.8 L296.5,114.8 L297.0,114.8 L297.5,114.8 L298.0,114.8 L298.5,114.8 L299.0,114.8 L299.5,114.8 L300.0,114.8 L300.5,114.8 L301.0,114.8 L301.5,114.8 L302.0,114.8 L302.5,114.8 L303.0,114.7 L303.5,114.7 L304.0,114.7 L304.5,114.6 L305.0,114.5 L305.5,114.4 L306.0,114.2 L306.5,114.0 L307.0,113.7 L307.5,113.3 L308.0,112.8 L308.5,112.1 L309.0,111.2 L309.5,110.2 L310.0,108.9 L310.5,107.3 L311.0,105.4 L311.5,103.2 L312.0,100.7 L312.5,97.8 L313.0,94.6 L313.5,91.0 L314.0,87.2 L314.5,83.2 L315.0,79.0 L315.5,74.7 L316.0,70.5 L316.5,66.4 L317.0,62.6 L317.5,59.3 L318.0,56.4 L318.5,54.1 L319.0,52.5 L319.5,51.6 L320.0,51.6 L320.5,52.3 L321.0,53.7 L321.5,55.9 L322.0,58.6 L322.5,61.9 L323.0,65.6 L323.5,69.7 L324.0,73.9 L324.5,78.1 L325.0,82.3 L325.5,86.4 L326.0,90.3 L326.5,93.9 L327.0,97.2 L327.5,100.2 L328.0,102.8" fill="none" stroke="#4050e0" stroke-width="1.2"/>
<path clip-path="url(#ca)" d="M29.0,109.6 L29.5,108.5 L30.0,107.2 L30.5,105.9 L31.0,104.4 L31.5,102.9 L32.0,101.3 L32.5,99.6 L33.0,98.0 L33.5,96.4 L34.0,94.9 L34.5,93.5 L35.0,92.3 L35.5,91.4 L36.0,90.7 L36.5,90.3 L37.0,90.1 L37.5,90.3 L38.0,90.7 L38.5,91.3 L39.0,92.2 L39.5,93.2 L40.0,94.4 L40.5,95.6 L41.0,96.8 L41.5,98.0 L42.0,99.1 L42.5,100.0 L43.0,100.7 L43.5,101.3 L44.0,101.6 L44.5,101.8 L45.0,101.7 L45.5,101.4 L46.0,100.9 L46.5,100.3 L47.0,99.6 L47.5,98.9 L48.0,98.2 L48.5,97.5 L49.0,96.9 L49.5,96.5 L50.0,96.2 L50.5,96.1 L51.0,96.2 L51.5,96.5 L52.0,97.0 L52.5,97.7 L53.0,98.5 L53.5,99.5 L54.0,100.6 L54.5,101.8 L55.0,103.1 L55.5,104.3 L56.0,105.6 L56.5,106.7 L57.0,107.9 L57.5,108.9 L58.0,109.8 L58.5,110.7 L59.0,111.4 L59.5,112.1 L60.0,112.6 L60.5,113.1 L61.0,113.5 L61.5,113.8 L62.0,114.0 L62.5,114.2 L63.0,114.4 L63.5,114.5 L64.0,114.6 L64.5,114.6 L65.0,114.7 L65.5,114.7 L66.0,114.7 L66.5,114.8 L67.0,114.8 L67.5,114.8 L68.0,114.8 L68.5,114.8 L69.0,114.8 L69.5,114.8 L70.0,114.8 L70.5,114.8 L71.0,114.8 L71.5,114.8 L72.0,114.8 L72.5,114.8 L73.0,114.8 L73.5,114.8 L74.0,114.8 L74.5,114.8 L75.0,114.8 L75.5,114.8 L76.0,114.8 L76.5,114.8 L77.0,114.8 L77.5,114.8 L78.0,114.8 L78.5,114.8 L79.0,114.8 L79.5,114.8 L80.0,114.8 L80.5,114.8 L81.0,114.8 L81.5,114.8 L82.0,114.8 L82.5,114.8 L83.0,114.8 L83.5,114.8 L84.0,114.8 L84.5,114.8 L85.0,114.8 L85.5,114.8 L86.0,114.8 L86.5,114.8 L87.0,114.8 L87.5,114.8 L88.0,114.8 L88.5,114.8 L89.0,114.8 L89.5,114.8 L90.0,114.8 L90.5,114.8 L91.0,114.8 L91.5,114.8 L92.0,114.8 L92.5,114.8 L93.0,114.8 L93.5,114.8 L94.0,114.8 L94.5,114.8 L95.0,114.8 L95.5,114.8 L96.0,114.8 L96.5,114.8 L97.0,114.8 L97.5,114.8 L98.0,114.8 L98.5,114.8 L99.0,114.8 L99.5,114.8 L100.0,114.8 L100.5,114.8 L101.0,114.8 L101.5,114.8 L102.0,114.7 L102.5,114.7 L103.0,114.7 L103.5,114.6 L104.0,114.5 L104.5,114.4 L105.0,114.3 L105.5,114.1 L106.0,113.9 L106.5,113.6 L107.0,113.3 L107.5,112.8 L108.0,112.3 L108.5,111.6 L109.0,110.8 L109.5,109.9 L110.0,108.9 L110.5,107.7 L111.0,106.4 L111.5,104.9 L112.0,103.4 L112.5,101.8 L113.0,100.2 L113.5,98.5 L114.0,96.9 L114.5,95.3 L115.0,93.9 L115.5,92.6 L116.0,91.6 L116.5,90.8 L117.0,90.3 L117.5,90.1 L118.0,90.2 L118.5,90.6 L119.0,91.3 L119.5,92.2 L120.0,93.4 L120.5,94.7 L121.0,96.2 L121.5,97.8 L122.0,99.5 L122.5,101.1 L123.0,102.8 L123.5,104.3 L124.0,105.8 L124.5,107.2 L125.0,108.4 L125.5,109.5 L126.0,110.4 L126.5,111.2 L127.0,111.9 L127.5,112.5 L128.0,112.9 L128.5,113.2 L129.0,113.4 L129.5,113.6 L130.0,113.6 L130.5,113.5 L131.0,113.3 L131.5,113.0 L132.0,112.6 L132.5,112.1 L133.0,111.5 L133.5,110.8 L134.0,109.9 L134.5,108.9 L135.0,107.7 L135.5,106.4 L136.0,105.1 L136.5,103.6 L137.0,102.0 L137.5,100.4 L138.0,98.8 L138.5,97.3 L139.0,95.8 L139.5,94.5 L140.0,93.3 L140.5,92.4 L141.0,91.6 L141.5,91.2 L142.0,91.0 L142.5,91.1 L143.0,91.5 L143.5,92.2 L144.0,93.0 L144.5,94.1 L145.0,95.3 L145.5,96.6 L146.0,97.9 L146.5,99.2 L147.0,100.5 L147.5,101.6 L148.0,102.6 L148.5,103.4 L149.0,104.0 L149.5,104.4 L150.0,104.6 L150.5,104.6 L151.0,104.4 L151.5,104.0 L152.0,103.4 L152.5,102.7 L153.0,102.0 L153.5,101.2 L154.0,100.4 L154.5,99.7 L155.0,99.1 L155.5,98.6 L156.0,98.3 L156.5,98.1 L157.0,98.1 L157.5,98.3 L158.0,98.7 L158.5,99.3 L159.0,100.1 L159.5,100.9 L160.0,101.9 L160.5,103.0 L161.0,104.1 L161.5,105.2 L162.0,106.3 L162.5,107.4 L163.0,108.4 L163.5,109.3 L164.0,110.2 L164.5,111.0 L165.0,111.6 L165.5,112.2 L166.0,112.7 L166.5,113.2 L167.0,113.5 L167.5,113.8 L168.0,114.0 L168.5,114.2 L169.0,114.3 L169.5,114.3 L170.0,114.3 L170.5,114.2 L171.0,114.1 L171.5,113.9 L172.0,113.6 L172.5,113.1 L173.0,112.5 L173.5,111.7 L174.0,110.6 L174.5,109.3 L175.0,107.6 L175.5,105.6 L176.0,103.1 L176.5,100.1 L177.0,96.7 L177.5,92.7 L178.0,88.2 L178.5,83.2 L179.0,77.8 L179.5,72.0 L180.0,66.0 L180.5,60.0 L181.0,53.9 L181.5,48.2 L182.0,42.8 L182.5,38.1 L183.0,34.2 L183.5,31.2 L184.0,29.2 L184.5,28.4 L185.0,28.8 L185.5,30.3 L186.0,32.9 L186.5,36.4 L187.0,40.9 L187.5,46.0 L188.0,51.6 L188.5,57.5 L189.0,63.6 L189.5,69.7 L190.0,75.5 L190.5,81.1 L191.0,86.3 L191.5,91.0 L192.0,95.1 L192.5,98.8 L193.0,102.0 L193.5,104.7 L194.0,106.9 L194.5,108.7 L195.0,110.2 L195.5,111.3 L196.0,112.2 L196.5,112.9 L197.0,113.4 L197.5,113.8 L198.0,114.0 L198.5,114.2 L199.0,114.3 L199.5,114.3 L200.0,114.3 L200.5,114.2 L201.0,114.0 L201.5,113.8 L202.0,113.5 L202.5,113.2 L203.0,112.7 L203.5,112.1 L204.0,111.4 L204.5,110.6 L205.0,109.6 L205.5,108.5 L206.0,107.2 L206.5,105.8 L207.0,104.2 L207.5,102.6 L208.0,100.8 L208.5,99.0 L209.0,97.1 L209.5,95.3 L210.0,93.6 L210.5,92.0 L211.0,90.6 L211.5,89.4 L212.0,88.4 L212.5,87.8 L213.0,87.5 L213.5,87.5 L214.0,87.8 L214.5,88.5 L215.0,89.4 L215.5,90.6 L216.0,91.9 L216.5,93.4 L217.0,95.0 L217.5,96.6 L218.0,98.2 L218.5,99.7 L219.0,101.1 L219.5,102.3 L220.0,103.3 L220.5,104.1 L221.0,104.7 L221.5,105.1 L222.0,105.3 L222.5,105.2 L223.0,105.0 L223.5,104.7 L224.0,104.2 L224.5,103.7 L225.0,103.2 L225.5,102.7 L226.0,102.2 L226.5,101.8 L227.0,101.5 L227.5,101.3 L228.0,101.3 L228.5,101.4 L229.0,101.7 L229.5,102.1 L230.0,102.6 L230.5,103.3 L231.0,104.1 L231.5,104.9 L232.0,105.8 L232.5,106.7 L233.0,107.6 L233.5,108.4 L234.0,109.3 L234.5,110.1 L235.0,110.8 L235.5,111.5 L236.0,112.0 L236.5,112.5 L237.0,113.0 L237.5,113.4 L238.0,113.7 L238.5,113.9 L239.0,114.1 L239.5,114.3 L240.0,114.4 L240.5,114.5 L241.0,114.6 L241.5,114.7 L242.0,114.7 L242.5,114.7 L243.0,114.7 L243.5,114.8 L244.0,114.8 L244.5,114.8 L245.0,114.8 L245.5,114.8 L246.0,114.8 L246.5,114.8 L247.0,114.8 L247.5,114.8 L248.0,114.8 L248.5,114.8 L249.0,114.8 L249.5,114.8 L250.0,114.8 L250.5,114.8 L251.0,114.8 L251.5,114.8 L252.0,114.8 L252.5,114.8 L253.0,114.8 L253.5,114.8 L254.0,114.8 L254.5,114.8 L255.0,114.8 L255.5,114.8 L256.0,114.8 L256.5,114.8 L257.0,114.8 L257.5,114.8 L258.0,114.8 L258.5,114.8 L259.0,114.8 L259.5,114.8 L260.0,114.8 L260.5,114.8 L261.0,114.8 L261.5,114.8 L262.0,114.8 L262.5,114.8 L263.0,114.8 L263.5,114.8 L264.0,114.8 L264.5,114.8 L265.0,114.8 L265.5,114.8 L266.0,114.8 L266.5,114.8 L267.0,114.8 L267.5,114.8 L268.0,114.8 L268.5,114.8 L269.0,114.8 L269.5,114.8 L270.0,114.8 L270.5,114.8 L271.0,114.8 L271.5,114.8 L272.0,114.8 L272.5,114.8 L273.0,114.8 L273.5,114.8 L274.0,114.8 L274.5,114.8 L275.0,114.8 L275.5,114.8 L276.0,114.8 L276.5,114.8 L277.0,114.8 L277.5,114.8 L278.0,114.8 L278.5,114.8 L279.0,114.8 L279.5,114.8 L280.0,114.8 L280.5,114.8 L281.0,114.8 L281.5,114.8 L282.0,114.8 L282.5,114.8 L283.0,114.8 L283.5,114.8 L284.0,114.8 L284.5,114.8 L285.0,114.8 L285.5,114.8 L286.0,114.8 L286.5,114.8 L287.0,114.8 L287.5,114.8 L288.0,114.8 L288.5,114.8 L289.0,114.8 L289.5,114.8 L290.0,114.8 L290.5,114.8 L291.0,114.8 L291.5,114.8 L292.0,114.8 L292.5,114.8 L293.0,114.8 L293.5,114.8 L294.0,114.8 L294.5,114.8 L295.0,114.8 L295.5,114.8 L296.0,114.8 L296.5,114.8 L297.0,114.8 L297.5,114.8 L298.0,114.8 L298.5,114.8 L299.0,114.8 L299.5,114.8 L300.0,114.8 L300.5,114.8 L301.0,114.8 L301.5,114.8 L302.0,114.8 L302.5,114.8 L303.0,114.8 L303.5,114.8 L304.0,114.8 L304.5,114.8 L305.0,114.8 L305.5,114.8 L306.0,114.8 L306.5,114.8 L307.0,114.8 L307.5,114.8 L308.0,114.8 L308.5,114.8 L309.0,114.8 L309.5,114.8 L310.0,114.8 L310.5,114.8 L311.0,114.8 L311.5,114.8 L312.0,114.8 L312.5,114.8 L313.0,114.8 L313.5,114.8 L314.0,114.8 L314.5,114.8 L315.0,114.8 L315.5,114.8 L316.0,114.8 L316.5,114.8 L317.0,114.8 L317.5,114.8 L318.0,114.8 L318.5,114.8 L319.0,114.8 L319.5,114.8 L320.0,114.8 L320.5,114.8 L321.0,114.8 L321.5,114.8 L322.0,114.8 L322.5,114.8 L323.0,114.8 L323.5,114.8 L324.0,114.8 L324.5,114.8 L325.0,114.8 L325.5,114.8 L326.0,114.8 L326.5,114.8 L327.0,114.8 L327.5,114.8 L328.0,114.8" fill="none" stroke="#ee4444" stroke-width="1.2"/>
<path clip-path="url(#cb)" d="M352.0,113.4 L352.5,113.4 L353.0,113.4 L353.5,113.4 L354.0,113.4 L354.5,113.4 L355.0,113.4 L355.5,113.4 L356.0,113.4 L356.5,113.4 L357.0,113.4 L357.5,113.4 L358.0,113.4 L358.5,113.4 L359.0,113.4 L359.5,113.4 L360.0,113.4 L360.5,113.4 L361.0,113.4 L361.5,113.4 L362.0,113.4 L362.5,113.4 L363.0,113.4 L363.5,113.4 L364.0,113.4 L364.5,113.4 L365.0,113.4 L365.5,113.4 L366.0,113.4 L366.5,113.4 L367.0,113.4 L367.5,113.4 L368.0,113.4 L368.5,113.4 L369.0,113.4 L369.5,113.4 L370.0,113.4 L370.5,113.4 L371.0,113.4 L371.5,113.4 L372.0,113.4 L372.5,113.4 L373.0,113.4 L373.5,113.4 L374.0,113.4 L374.5,113.4 L375.0,113.4 L375.5,113.4 L376.0,113.4 L376.5,113.4 L377.0,113.4 L377.5,113.4 L378.0,113.4 L378.5,113.4 L379.0,113.4 L379.5,113.4 L380.0,113.4 L380.5,113.4 L381.0,113.4 L381.5,113.4 L382.0,113.4 L382.5,113.4 L383.0,113.4 L383.5,113.4 L384.0,113.4 L384.5,113.4 L385.0,113.4 L385.5,113.4 L386.0,113.4 L386.5,113.4 L387.0,113.4 L387.5,113.4 L388.0,113.4 L388.5,113.4 L389.0,113.4 L389.5,113.4 L390.0,113.4 L390.5,113.4 L391.0,113.4 L391.5,113.4 L392.0,113.4 L392.5,113.4 L393.0,113.4 L393.5,113.4 L394.0,113.4 L394.5,113.4 L395.0,113.4 L395.5,113.4 L396.0,113.4 L396.5,113.4 L397.0,113.4 L397.5,113.4 L398.0,113.4 L398.5,113.4 L399.0,113.4 L399.5,113.4 L400.0,113.4 L400.5,113.4 L401.0,113.4 L401.5,113.4 L402.0,113.4 L402.5,113.4 L403.0,113.4 L403.5,113.4 L404.0,113.4 L404.5,113.4 L405.0,113.4 L405.5,113.4 L406.0,113.4 L406.5,113.4 L407.0,113.4 L407.5,113.4 L408.0,113.4 L408.5,113.4 L409.0,113.4 L409.5,113.4 L410.0,113.4 L410.5,113.4 L411.0,113.4 L411.5,113.4 L412.0,113.4 L412.5,113.4 L413.0,113.4 L413.5,113.4 L414.0,113.4 L414.5,113.4 L415.0,113.4 L415.5,113.4 L416.0,113.4 L416.5,113.4 L417.0,113.4 L417.5,113.4 L418.0,113.4 L418.5,113.4 L419.0,113.4 L419.5,113.4 L420.0,113.4 L420.5,113.4 L421.0,113.4 L421.5,113.4 L422.0,113.4 L422.5,113.4 L423.0,113.4 L423.5,113.4 L424.0,113.4 L424.5,113.4 L425.0,113.4 L425.5,113.4 L426.0,113.4 L426.5,113.4 L427.0,113.4 L427.5,113.4 L428.0,113.4 L428.5,113.4 L429.0,113.4 L429.5,113.4 L430.0,113.4 L430.5,113.4 L431.0,113.4 L431.5,113.4 L432.0,113.4 L432.5,113.4 L433.0,113.4 L433.5,113.4 L434.0,113.4 L434.5,113.4 L435.0,113.4 L435.5,113.4 L436.0,113.3 L436.5,113.3 L437.0,113.3 L437.5,113.3 L438.0,113.3 L438.5,113.3 L439.0,113.2 L439.5,113.2 L440.0,113.2 L440.5,113.2 L441.0,113.1 L441.5,113.1 L442.0,113.0 L442.5,112.9 L443.0,112.9 L443.5,112.8 L444.0,112.7 L444.5,112.6 L445.0,112.5 L445.5,112.3 L446.0,112.2 L446.5,112.0 L447.0,111.9 L447.5,111.7 L448.0,111.5 L448.5,111.2 L449.0,111.0 L449.5,110.7 L450.0,110.4 L450.5,110.1 L451.0,109.8 L451.5,109.4 L452.0,109.0 L452.5,108.6 L453.0,108.2 L453.5,107.8 L454.0,107.3 L454.5,106.8 L455.0,106.4 L455.5,105.9 L456.0,105.3 L456.5,104.8 L457.0,104.3 L457.5,103.8 L458.0,103.2 L458.5,102.7 L459.0,102.2 L459.5,101.7 L460.0,101.2 L460.5,100.7 L461.0,100.3 L461.5,99.9 L462.0,99.5 L462.5,99.1 L463.0,98.8 L463.5,98.5 L464.0,98.2 L464.5,98.0 L465.0,97.9 L465.5,97.7 L466.0,97.7 L466.5,97.6 L467.0,97.6 L467.5,97.7 L468.0,97.7 L468.5,97.8 L469.0,97.9 L469.5,98.0 L470.0,98.1 L470.5,98.1 L471.0,98.1 L471.5,97.9 L472.0,97.7 L472.5,97.3 L473.0,96.8 L473.5,96.0 L474.0,95.0 L474.5,93.7 L475.0,92.2 L475.5,90.3 L476.0,88.2 L476.5,85.7 L477.0,83.0 L477.5,80.1 L478.0,77.0 L478.5,73.8 L479.0,70.6 L479.5,67.5 L480.0,64.5 L480.5,61.8 L481.0,59.5 L481.5,57.7 L482.0,56.4 L482.5,55.8 L483.0,55.7 L483.5,56.4 L484.0,57.6 L484.5,59.5 L485.0,61.9 L485.5,64.8 L486.0,68.1 L486.5,71.6 L487.0,75.3 L487.5,79.2 L488.0,83.0 L488.5,86.7 L489.0,90.2 L489.5,93.5 L490.0,96.6 L490.5,99.3 L491.0,101.7 L491.5,103.9 L492.0,105.7 L492.5,107.3 L493.0,108.6 L493.5,109.6 L494.0,110.5 L494.5,111.2 L495.0,111.7 L495.5,112.2 L496.0,112.5 L496.5,112.7 L497.0,112.9 L497.5,113.1 L498.0,113.2 L498.5,113.2 L499.0,113.3 L499.5,113.3 L500.0,113.3 L500.5,113.4 L501.0,113.4 L501.5,113.4 L502.0,113.4 L502.5,113.4 L503.0,113.4 L503.5,113.4 L504.0,113.4 L504.5,113.4 L505.0,113.4 L505.5,113.4 L506.0,113.4 L506.5,113.4 L507.0,113.4 L507.5,113.4 L508.0,113.4 L508.5,113.4 L509.0,113.4 L509.5,113.4 L510.0,113.4 L510.5,113.4 L511.0,113.4 L511.5,113.4 L512.0,113.4 L512.5,113.4 L513.0,113.4 L513.5,113.4 L514.0,113.4 L514.5,113.4 L515.0,113.4 L515.5,113.4 L516.0,113.4 L516.5,113.4 L517.0,113.4 L517.5,113.4 L518.0,113.4 L518.5,113.4 L519.0,113.4 L519.5,113.4 L520.0,113.4 L520.5,113.4 L521.0,113.4 L521.5,113.4 L522.0,113.4 L522.5,113.4 L523.0,113.4 L523.5,113.4 L524.0,113.4 L524.5,113.4 L525.0,113.4 L525.5,113.4 L526.0,113.4 L526.5,113.4 L527.0,113.4 L527.5,113.4 L528.0,113.4 L528.5,113.4 L529.0,113.4 L529.5,113.4 L530.0,113.4 L530.5,113.4 L531.0,113.4 L531.5,113.4 L532.0,113.4 L532.5,113.4 L533.0,113.4 L533.5,113.4 L534.0,113.4 L534.5,113.4 L535.0,113.4 L535.5,113.4 L536.0,113.4 L536.5,113.4 L537.0,113.4 L537.5,113.4 L538.0,113.4 L538.5,113.4 L539.0,113.4 L539.5,113.4 L540.0,113.4 L540.5,113.4 L541.0,113.4 L541.5,113.4 L542.0,113.4 L542.5,113.4 L543.0,113.4 L543.5,113.4 L544.0,113.4 L544.5,113.4 L545.0,113.4 L545.5,113.4 L546.0,113.4 L546.5,113.4 L547.0,113.4 L547.5,113.4 L548.0,113.4 L548.5,113.4 L549.0,113.4 L549.5,113.4 L550.0,113.4 L550.5,113.4 L551.0,113.4 L551.5,113.4 L552.0,113.4 L552.5,113.4 L553.0,113.4 L553.5,113.4 L554.0,113.4 L554.5,113.4 L555.0,113.4 L555.5,113.4 L556.0,113.4 L556.5,113.4 L557.0,113.4 L557.5,113.4 L558.0,113.4 L558.5,113.4 L559.0,113.4 L559.5,113.4 L560.0,113.4 L560.5,113.4 L561.0,113.4 L561.5,113.4 L562.0,113.4 L562.5,113.4 L563.0,113.4 L563.5,113.4 L564.0,113.4 L564.5,113.4 L565.0,113.4 L565.5,113.4 L566.0,113.4 L566.5,113.4 L567.0,113.4 L567.5,113.4 L568.0,113.4 L568.5,113.4 L569.0,113.4 L569.5,113.3 L570.0,113.3 L570.5,113.3 L571.0,113.2 L571.5,113.1 L572.0,113.0 L572.5,112.9 L573.0,112.6 L573.5,112.3 L574.0,111.9 L574.5,111.4 L575.0,110.7 L575.5,109.8 L576.0,108.7 L576.5,107.3 L577.0,105.6 L577.5,103.6 L578.0,101.2 L578.5,98.3 L579.0,95.1 L579.5,91.4 L580.0,87.3 L580.5,82.7 L581.0,77.9 L581.5,72.8 L582.0,67.5 L582.5,62.1 L583.0,56.9 L583.5,51.9 L584.0,47.2 L584.5,43.0 L585.0,39.5 L585.5,36.8 L586.0,34.9 L586.5,33.9 L587.0,33.9 L587.5,34.7 L588.0,36.5 L588.5,39.0 L589.0,42.1 L589.5,45.8 L590.0,49.8 L590.5,54.0 L591.0,58.3 L591.5,62.3 L592.0,66.1 L592.5,69.4 L593.0,72.2 L593.5,74.3 L594.0,75.9 L594.5,76.8 L595.0,77.1 L595.5,76.8 L596.0,76.0 L596.5,74.9 L597.0,73.5 L597.5,72.0 L598.0,70.4 L598.5,69.0 L599.0,67.8 L599.5,66.9 L600.0,66.5 L600.5,66.5 L601.0,67.0 L601.5,68.0 L602.0,69.5 L602.5,71.4 L603.0,73.7 L603.5,76.3 L604.0,79.2 L604.5,82.2 L605.0,85.4 L605.5,88.5 L606.0,91.5 L606.5,94.4 L607.0,97.1 L607.5,99.6 L608.0,101.9 L608.5,103.9 L609.0,105.6 L609.5,107.1 L610.0,108.4 L610.5,109.5 L611.0,110.4 L611.5,111.1 L612.0,111.6 L612.5,112.1 L613.0,112.4 L613.5,112.7 L614.0,112.9 L614.5,113.0 L615.0,113.1 L615.5,113.2 L616.0,113.3 L616.5,113.3 L617.0,113.3 L617.5,113.4 L618.0,113.4 L618.5,113.4 L619.0,113.4 L619.5,113.4 L620.0,113.4 L620.5,113.4 L621.0,113.4 L621.5,113.4 L622.0,113.4 L622.5,113.4 L623.0,113.4 L623.5,113.4 L624.0,113.4 L624.5,113.4 L625.0,113.4 L625.5,113.4 L626.0,113.4 L626.5,113.4 L627.0,113.4 L627.5,113.4 L628.0,113.4 L628.5,113.4 L629.0,113.3 L629.5,113.3 L630.0,113.2 L630.5,113.2 L631.0,113.1 L631.5,113.0 L632.0,112.8 L632.5,112.6 L633.0,112.3" fill="none" stroke="#48a868" stroke-width="1.2"/>
<path clip-path="url(#cb)" d="M352.0,96.0 L352.5,96.9 L353.0,97.9 L353.5,98.9 L354.0,100.0 L354.5,101.0 L355.0,102.0 L355.5,102.9 L356.0,103.8 L356.5,104.6 L357.0,105.4 L357.5,106.0 L358.0,106.5 L358.5,107.0 L359.0,107.3 L359.5,107.6 L360.0,107.7 L360.5,107.8 L361.0,107.8 L361.5,107.6 L362.0,107.4 L362.5,107.1 L363.0,106.7 L363.5,106.3 L364.0,105.7 L364.5,104.9 L365.0,104.1 L365.5,103.1 L366.0,101.9 L366.5,100.6 L367.0,99.2 L367.5,97.5 L368.0,95.6 L368.5,93.6 L369.0,91.4 L369.5,89.1 L370.0,86.6 L370.5,84.0 L371.0,81.4 L371.5,78.8 L372.0,76.2 L372.5,73.7 L373.0,71.3 L373.5,69.2 L374.0,67.3 L374.5,65.8 L375.0,64.6 L375.5,63.8 L376.0,63.4 L376.5,63.5 L377.0,64.0 L377.5,65.0 L378.0,66.3 L378.5,68.1 L379.0,70.1 L379.5,72.4 L380.0,75.0 L380.5,77.7 L381.0,80.6 L381.5,83.4 L382.0,86.3 L382.5,89.1 L383.0,91.8 L383.5,94.4 L384.0,96.8 L384.5,99.0 L385.0,101.0 L385.5,102.8 L386.0,104.3 L386.5,105.6 L387.0,106.7 L387.5,107.5 L388.0,108.1 L388.5,108.5 L389.0,108.7 L389.5,108.6 L390.0,108.3 L390.5,107.7 L391.0,106.9 L391.5,105.8 L392.0,104.5 L392.5,102.9 L393.0,101.0 L393.5,98.8 L394.0,96.4 L394.5,93.7 L395.0,90.8 L395.5,87.6 L396.0,84.2 L396.5,80.7 L397.0,77.2 L397.5,73.6 L398.0,70.0 L398.5,66.5 L399.0,63.2 L399.5,60.2 L400.0,57.6 L400.5,55.3 L401.0,53.5 L401.5,52.2 L402.0,51.5 L402.5,51.3 L403.0,51.7 L403.5,52.7 L404.0,54.2 L404.5,56.2 L405.0,58.6 L405.5,61.4 L406.0,64.5 L406.5,67.9 L407.0,71.4 L407.5,75.0 L408.0,78.6 L408.5,82.2 L409.0,85.6 L409.5,89.0 L410.0,92.1 L410.5,94.9 L411.0,97.6 L411.5,100.0 L412.0,102.1 L412.5,104.0 L413.0,105.6 L413.5,107.0 L414.0,108.2 L414.5,109.3 L415.0,110.1 L415.5,110.8 L416.0,111.4 L416.5,111.8 L417.0,112.2 L417.5,112.5 L418.0,112.7 L418.5,112.9 L419.0,113.0 L419.5,113.1 L420.0,113.2 L420.5,113.3 L421.0,113.3 L421.5,113.3 L422.0,113.3 L422.5,113.4 L423.0,113.4 L423.5,113.4 L424.0,113.4 L424.5,113.4 L425.0,113.4 L425.5,113.4 L426.0,113.4 L426.5,113.4 L427.0,113.4 L427.5,113.4 L428.0,113.4 L428.5,113.4 L429.0,113.4 L429.5,113.4 L430.0,113.4 L430.5,113.4 L431.0,113.4 L431.5,113.4 L432.0,113.4 L432.5,113.4 L433.0,113.4 L433.5,113.4 L434.0,113.4 L434.5,113.4 L435.0,113.4 L435.5,113.4 L436.0,113.4 L436.5,113.4 L437.0,113.4 L437.5,113.4 L438.0,113.4 L438.5,113.4 L439.0,113.4 L439.5,113.4 L440.0,113.4 L440.5,113.4 L441.0,113.4 L441.5,113.4 L442.0,113.4 L442.5,113.4 L443.0,113.4 L443.5,113.4 L444.0,113.4 L444.5,113.4 L445.0,113.4 L445.5,113.4 L446.0,113.4 L446.5,113.4 L447.0,113.4 L447.5,113.4 L448.0,113.4 L448.5,113.4 L449.0,113.4 L449.5,113.4 L450.0,113.4 L450.5,113.4 L451.0,113.4 L451.5,113.4 L452.0,113.4 L452.5,113.4 L453.0,113.4 L453.5,113.4 L454.0,113.4 L454.5,113.4 L455.0,113.4 L455.5,113.4 L456.0,113.4 L456.5,113.4 L457.0,113.4 L457.5,113.4 L458.0,113.4 L458.5,113.4 L459.0,113.4 L459.5,113.4 L460.0,113.4 L460.5,113.4 L461.0,113.4 L461.5,113.4 L462.0,113.4 L462.5,113.4 L463.0,113.4 L463.5,113.4 L464.0,113.4 L464.5,113.4 L465.0,113.4 L465.5,113.4 L466.0,113.4 L466.5,113.4 L467.0,113.4 L467.5,113.4 L468.0,113.4 L468.5,113.4 L469.0,113.4 L469.5,113.4 L470.0,113.4 L470.5,113.4 L471.0,113.4 L471.5,113.4 L472.0,113.4 L472.5,113.4 L473.0,113.4 L473.5,113.4 L474.0,113.4 L474.5,113.4 L475.0,113.4 L475.5,113.4 L476.0,113.4 L476.5,113.4 L477.0,113.4 L477.5,113.4 L478.0,113.4 L478.5,113.4 L479.0,113.4 L479.5,113.4 L480.0,113.4 L480.5,113.4 L481.0,113.4 L481.5,113.4 L482.0,113.4 L482.5,113.4 L483.0,113.4 L483.5,113.4 L484.0,113.4 L484.5,113.4 L485.0,113.4 L485.5,113.4 L486.0,113.4 L486.5,113.4 L487.0,113.4 L487.5,113.4 L488.0,113.4 L488.5,113.4 L489.0,113.4 L489.5,113.4 L490.0,113.4 L490.5,113.4 L491.0,113.4 L491.5,113.4 L492.0,113.4 L492.5,113.4 L493.0,113.4 L493.5,113.4 L494.0,113.4 L494.5,113.4 L495.0,113.4 L495.5,113.4 L496.0,113.4 L496.5,113.4 L497.0,113.4 L497.5,113.4 L498.0,113.4 L498.5,113.4 L499.0,113.4 L499.5,113.4 L500.0,113.4 L500.5,113.4 L501.0,113.4 L501.5,113.4 L502.0,113.4 L502.5,113.4 L503.0,113.4 L503.5,113.4 L504.0,113.4 L504.5,113.4 L505.0,113.4 L505.5,113.4 L506.0,113.4 L506.5,113.4 L507.0,113.4 L507.5,113.4 L508.0,113.4 L508.5,113.4 L509.0,113.4 L509.5,113.4 L510.0,113.4 L510.5,113.4 L511.0,113.4 L511.5,113.4 L512.0,113.4 L512.5,113.4 L513.0,113.4 L513.5,113.4 L514.0,113.4 L514.5,113.4 L515.0,113.4 L515.5,113.4 L516.0,113.4 L516.5,113.4 L517.0,113.4 L517.5,113.4 L518.0,113.4 L518.5,113.4 L519.0,113.4 L519.5,113.4 L520.0,113.4 L520.5,113.4 L521.0,113.4 L521.5,113.4 L522.0,113.4 L522.5,113.4 L523.0,113.4 L523.5,113.4 L524.0,113.4 L524.5,113.4 L525.0,113.4 L525.5,113.4 L526.0,113.3 L526.5,113.3 L527.0,113.3 L527.5,113.2 L528.0,113.2 L528.5,113.1 L529.0,113.0 L529.5,112.8 L530.0,112.7 L530.5,112.4 L531.0,112.1 L531.5,111.8 L532.0,111.3 L532.5,110.8 L533.0,110.1 L533.5,109.3 L534.0,108.3 L534.5,107.2 L535.0,105.9 L535.5,104.4 L536.0,102.8 L536.5,100.9 L537.0,98.9 L537.5,96.6 L538.0,94.2 L538.5,91.7 L539.0,89.0 L539.5,86.3 L540.0,83.5 L540.5,80.7 L541.0,78.1 L541.5,75.5 L542.0,73.2 L542.5,71.1 L543.0,69.3 L543.5,67.8 L544.0,66.8 L544.5,66.1 L545.0,65.9 L545.5,66.1 L546.0,66.8 L546.5,67.8 L547.0,69.3 L547.5,71.1 L548.0,73.2 L548.5,75.5 L549.0,78.1 L549.5,80.7 L550.0,83.5 L550.5,86.2 L551.0,88.9 L551.5,91.6 L552.0,94.1 L552.5,96.5 L553.0,98.6 L553.5,100.6 L554.0,102.4 L554.5,103.9 L555.0,105.2 L555.5,106.3 L556.0,107.1 L556.5,107.7 L557.0,108.1 L557.5,108.2 L558.0,108.1 L558.5,107.8 L559.0,107.3 L559.5,106.5 L560.0,105.5 L560.5,104.2 L561.0,102.7 L561.5,101.0 L562.0,99.1 L562.5,96.9 L563.0,94.6 L563.5,92.1 L564.0,89.5 L564.5,86.8 L565.0,84.0 L565.5,81.3 L566.0,78.6 L566.5,76.0 L567.0,73.6 L567.5,71.5 L568.0,69.6 L568.5,68.1 L569.0,66.9 L569.5,66.2 L570.0,65.9 L570.5,66.0 L571.0,66.6 L571.5,67.6 L572.0,69.0 L572.5,70.7 L573.0,72.7 L573.5,75.0 L574.0,77.5 L574.5,80.2 L575.0,82.9 L575.5,85.7 L576.0,88.4 L576.5,91.1 L577.0,93.7 L577.5,96.1 L578.0,98.4 L578.5,100.5 L579.0,102.4 L579.5,104.1 L580.0,105.6 L580.5,107.0 L581.0,108.1 L581.5,109.1 L582.0,109.9 L582.5,110.6 L583.0,111.2 L583.5,111.7 L584.0,112.1 L584.5,112.4 L585.0,112.6 L585.5,112.8 L586.0,113.0 L586.5,113.1 L587.0,113.2 L587.5,113.2 L588.0,113.3 L588.5,113.3 L589.0,113.3 L589.5,113.4 L590.0,113.4 L590.5,113.4 L591.0,113.4 L591.5,113.4 L592.0,113.4 L592.5,113.4 L593.0,113.4 L593.5,113.4 L594.0,113.3 L594.5,113.3 L595.0,113.3 L595.5,113.2 L596.0,113.2 L596.5,113.1 L597.0,113.0 L597.5,112.9 L598.0,112.8 L598.5,112.6 L599.0,112.4 L599.5,112.1 L600.0,111.8 L600.5,111.4 L601.0,110.9 L601.5,110.4 L602.0,109.8 L602.5,109.1 L603.0,108.3 L603.5,107.4 L604.0,106.4 L604.5,105.3 L605.0,104.1 L605.5,102.9 L606.0,101.6 L606.5,100.3 L607.0,98.9 L607.5,97.6 L608.0,96.3 L608.5,95.1 L609.0,93.9 L609.5,92.9 L610.0,92.0 L610.5,91.3 L611.0,90.8 L611.5,90.5 L612.0,90.4 L612.5,90.5 L613.0,90.8 L613.5,91.3 L614.0,92.0 L614.5,92.9 L615.0,93.9 L615.5,95.1 L616.0,96.3 L616.5,97.6 L617.0,98.9 L617.5,100.3 L618.0,101.6 L618.5,102.9 L619.0,104.1 L619.5,105.3 L620.0,106.4 L620.5,107.4 L621.0,108.3 L621.5,109.1 L622.0,109.8 L622.5,110.4 L623.0,110.9 L623.5,111.4 L624.0,111.8 L624.5,112.1 L625.0,112.4 L625.5,112.6 L626.0,112.8 L626.5,112.9 L627.0,113.0 L627.5,113.1 L628.0,113.2 L628.5,113.3 L629.0,113.3 L629.5,113.3 L630.0,113.3 L630.5,113.4 L631.0,113.4 L631.5,113.4 L632.0,113.4 L632.5,113.4 L633.0,113.4" fill="none" stroke="#333333" stroke-width="1.2"/>
<path clip-path="url(#cb)" d="M352.0,113.4 L352.5,113.4 L353.0,113.4 L353.5,113.4 L354.0,113.4 L354.5,113.4 L355.0,113.4 L355.5,113.4 L356.0,113.4 L356.5,113.4 L357.0,113.4 L357.5,113.4 L358.0,113.4 L358.5,113.4 L359.0,113.4 L359.5,113.4 L360.0,113.4 L360.5,113.4 L361.0,113.4 L361.5,113.4 L362.0,113.4 L362.5,113.4 L363.0,113.4 L363.5,113.4 L364.0,113.4 L364.5,113.4 L365.0,113.4 L365.5,113.4 L366.0,113.4 L366.5,113.4 L367.0,113.4 L367.5,113.4 L368.0,113.4 L368.5,113.4 L369.0,113.4 L369.5,113.4 L370.0,113.4 L370.5,113.4 L371.0,113.4 L371.5,113.4 L372.0,113.4 L372.5,113.4 L373.0,113.4 L373.5,113.4 L374.0,113.4 L374.5,113.4 L375.0,113.4 L375.5,113.4 L376.0,113.4 L376.5,113.4 L377.0,113.4 L377.5,113.4 L378.0,113.4 L378.5,113.4 L379.0,113.4 L379.5,113.4 L380.0,113.4 L380.5,113.4 L381.0,113.4 L381.5,113.4 L382.0,113.4 L382.5,113.4 L383.0,113.4 L383.5,113.4 L384.0,113.4 L384.5,113.4 L385.0,113.4 L385.5,113.4 L386.0,113.4 L386.5,113.4 L387.0,113.4 L387.5,113.4 L388.0,113.4 L388.5,113.4 L389.0,113.4 L389.5,113.4 L390.0,113.4 L390.5,113.4 L391.0,113.4 L391.5,113.4 L392.0,113.4 L392.5,113.4 L393.0,113.4 L393.5,113.4 L394.0,113.4 L394.5,113.4 L395.0,113.4 L395.5,113.4 L396.0,113.4 L396.5,113.3 L397.0,113.3 L397.5,113.3 L398.0,113.2 L398.5,113.2 L399.0,113.1 L399.5,112.9 L400.0,112.7 L400.5,112.5 L401.0,112.1 L401.5,111.7 L402.0,111.1 L402.5,110.4 L403.0,109.5 L403.5,108.4 L404.0,107.0 L404.5,105.4 L405.0,103.5 L405.5,101.4 L406.0,98.9 L406.5,96.2 L407.0,93.1 L407.5,89.9 L408.0,86.4 L408.5,82.8 L409.0,79.2 L409.5,75.6 L410.0,72.1 L410.5,68.9 L411.0,66.0 L411.5,63.6 L412.0,61.6 L412.5,60.2 L413.0,59.5 L413.5,59.5 L414.0,60.0 L414.5,61.3 L415.0,63.1 L415.5,65.5 L416.0,68.3 L416.5,71.5 L417.0,74.9 L417.5,78.5 L418.0,82.1 L418.5,85.7 L419.0,89.2 L419.5,92.5 L420.0,95.6 L420.5,98.4 L421.0,100.9 L421.5,103.1 L422.0,105.1 L422.5,106.7 L423.0,108.1 L423.5,109.2 L424.0,110.2 L424.5,110.9 L425.0,111.5 L425.5,111.9 L426.0,112.2 L426.5,112.4 L427.0,112.5 L427.5,112.5 L428.0,112.4 L428.5,112.2 L429.0,111.9 L429.5,111.5 L430.0,110.9 L430.5,110.3 L431.0,109.4 L431.5,108.4 L432.0,107.1 L432.5,105.7 L433.0,104.0 L433.5,102.1 L434.0,100.0 L434.5,97.7 L435.0,95.2 L435.5,92.6 L436.0,89.9 L436.5,87.2 L437.0,84.5 L437.5,81.9 L438.0,79.6 L438.5,77.5 L439.0,75.7 L439.5,74.3 L440.0,73.4 L440.5,72.9 L441.0,73.0 L441.5,73.5 L442.0,74.6 L442.5,76.0 L443.0,77.9 L443.5,80.0 L444.0,82.4 L444.5,85.0 L445.0,87.7 L445.5,90.5 L446.0,93.2 L446.5,95.8 L447.0,98.2 L447.5,100.5 L448.0,102.5 L448.5,104.4 L449.0,106.0 L449.5,107.4 L450.0,108.6 L450.5,109.6 L451.0,110.5 L451.5,111.1 L452.0,111.7 L452.5,112.1 L453.0,112.4 L453.5,112.7 L454.0,112.9 L454.5,113.0 L455.0,113.1 L455.5,113.2 L456.0,113.3 L456.5,113.3 L457.0,113.3 L457.5,113.4 L458.0,113.4 L458.5,113.4 L459.0,113.4 L459.5,113.4 L460.0,113.4 L460.5,113.4 L461.0,113.4 L461.5,113.4 L462.0,113.4 L462.5,113.4 L463.0,113.4 L463.5,113.4 L464.0,113.4 L464.5,113.4 L465.0,113.4 L465.5,113.4 L466.0,113.4 L466.5,113.4 L467.0,113.4 L467.5,113.4 L468.0,113.4 L468.5,113.4 L469.0,113.4 L469.5,113.4 L470.0,113.4 L470.5,113.4 L471.0,113.4 L471.5,113.4 L472.0,113.4 L472.5,113.4 L473.0,113.4 L473.5,113.4 L474.0,113.4 L474.5,113.4 L475.0,113.4 L475.5,113.4 L476.0,113.3 L476.5,113.3 L477.0,113.3 L477.5,113.2 L478.0,113.2 L478.5,113.0 L479.0,112.9 L479.5,112.7 L480.0,112.5 L480.5,112.1 L481.0,111.7 L481.5,111.2 L482.0,110.5 L482.5,109.7 L483.0,108.7 L483.5,107.5 L484.0,106.1 L484.5,104.5 L485.0,102.7 L485.5,100.6 L486.0,98.3 L486.5,95.9 L487.0,93.2 L487.5,90.5 L488.0,87.7 L488.5,85.0 L489.0,82.3 L489.5,79.8 L490.0,77.5 L490.5,75.5 L491.0,73.9 L491.5,72.8 L492.0,72.1 L492.5,71.9 L493.0,72.2 L493.5,73.0 L494.0,74.2 L494.5,75.8 L495.0,77.6 L495.5,79.8 L496.0,82.0 L496.5,84.3 L497.0,86.4 L497.5,88.5 L498.0,90.2 L498.5,91.7 L499.0,92.7 L499.5,93.3 L500.0,93.3 L500.5,92.9 L501.0,91.9 L501.5,90.5 L502.0,88.6 L502.5,86.2 L503.0,83.5 L503.5,80.6 L504.0,77.5 L504.5,74.3 L505.0,71.3 L505.5,68.4 L506.0,65.8 L506.5,63.6 L507.0,61.8 L507.5,60.7 L508.0,60.2 L508.5,60.2 L509.0,61.0 L509.5,62.3 L510.0,64.3 L510.5,66.7 L511.0,69.6 L511.5,72.7 L512.0,76.2 L512.5,79.7 L513.0,83.3 L513.5,86.8 L514.0,90.2 L514.5,93.4 L515.0,96.4 L515.5,99.1 L516.0,101.6 L516.5,103.7 L517.0,105.5 L517.5,107.1 L518.0,108.4 L518.5,109.5 L519.0,110.4 L519.5,111.1 L520.0,111.7 L520.5,112.1 L521.0,112.5 L521.5,112.7 L522.0,112.9 L522.5,113.1 L523.0,113.2 L523.5,113.2 L524.0,113.3 L524.5,113.3 L525.0,113.3 L525.5,113.4 L526.0,113.4 L526.5,113.4 L527.0,113.4 L527.5,113.4 L528.0,113.4 L528.5,113.4 L529.0,113.4 L529.5,113.4 L530.0,113.4 L530.5,113.4 L531.0,113.4 L531.5,113.4 L532.0,113.4 L532.5,113.4 L533.0,113.4 L533.5,113.4 L534.0,113.4 L534.5,113.4 L535.0,113.4 L535.5,113.4 L536.0,113.4 L536.5,113.4 L537.0,113.4 L537.5,113.4 L538.0,113.4 L538.5,113.4 L539.0,113.4 L539.5,113.4 L540.0,113.4 L540.5,113.4 L541.0,113.4 L541.5,113.4 L542.0,113.4 L542.5,113.4 L543.0,113.4 L543.5,113.4 L544.0,113.4 L544.5,113.4 L545.0,113.4 L545.5,113.4 L546.0,113.4 L546.5,113.4 L547.0,113.4 L547.5,113.4 L548.0,113.4 L548.5,113.4 L549.0,113.4 L549.5,113.4 L550.0,113.4 L550.5,113.4 L551.0,113.4 L551.5,113.4 L552.0,113.4 L552.5,113.4 L553.0,113.4 L553.5,113.4 L554.0,113.4 L554.5,113.4 L555.0,113.4 L555.5,113.4 L556.0,113.4 L556.5,113.4 L557.0,113.4 L557.5,113.4 L558.0,113.4 L558.5,113.4 L559.0,113.4 L559.5,113.4 L560.0,113.4 L560.5,113.4 L561.0,113.4 L561.5,113.4 L562.0,113.4 L562.5,113.4 L563.0,113.4 L563.5,113.4 L564.0,113.4 L564.5,113.4 L565.0,113.4 L565.5,113.4 L566.0,113.4 L566.5,113.4 L567.0,113.4 L567.5,113.4 L568.0,113.4 L568.5,113.4 L569.0,113.4 L569.5,113.4 L570.0,113.4 L570.5,113.4 L571.0,113.4 L571.5,113.4 L572.0,113.4 L572.5,113.4 L573.0,113.4 L573.5,113.4 L574.0,113.4 L574.5,113.4 L575.0,113.4 L575.5,113.4 L576.0,113.4 L576.5,113.4 L577.0,113.4 L577.5,113.4 L578.0,113.4 L578.5,113.4 L579.0,113.4 L579.5,113.4 L580.0,113.4 L580.5,113.4 L581.0,113.4 L581.5,113.4 L582.0,113.4 L582.5,113.4 L583.0,113.4 L583.5,113.4 L584.0,113.4 L584.5,113.4 L585.0,113.4 L585.5,113.4 L586.0,113.4 L586.5,113.4 L587.0,113.4 L587.5,113.4 L588.0,113.4 L588.5,113.4 L589.0,113.4 L589.5,113.4 L590.0,113.4 L590.5,113.4 L591.0,113.4 L591.5,113.4 L592.0,113.4 L592.5,113.4 L593.0,113.4 L593.5,113.4 L594.0,113.4 L594.5,113.4 L595.0,113.4 L595.5,113.4 L596.0,113.4 L596.5,113.4 L597.0,113.4 L597.5,113.4 L598.0,113.4 L598.5,113.4 L599.0,113.4 L599.5,113.4 L600.0,113.4 L600.5,113.4 L601.0,113.4 L601.5,113.4 L602.0,113.4 L602.5,113.4 L603.0,113.4 L603.5,113.4 L604.0,113.4 L604.5,113.4 L605.0,113.4 L605.5,113.4 L606.0,113.4 L606.5,113.4 L607.0,113.4 L607.5,113.4 L608.0,113.4 L608.5,113.4 L609.0,113.3 L609.5,113.3 L610.0,113.3 L610.5,113.2 L611.0,113.1 L611.5,113.0 L612.0,112.8 L612.5,112.5 L613.0,112.2 L613.5,111.8 L614.0,111.2 L614.5,110.4 L615.0,109.4 L615.5,108.2 L616.0,106.7 L616.5,104.8 L617.0,102.6 L617.5,99.9 L618.0,96.7 L618.5,93.1 L619.0,89.0 L619.5,84.5 L620.0,79.5 L620.5,74.1 L621.0,68.4 L621.5,62.6 L622.0,56.7 L622.5,50.9 L623.0,45.3 L623.5,40.1 L624.0,35.6 L624.5,31.7 L625.0,28.8 L625.5,26.8 L626.0,25.8 L626.5,25.9 L627.0,27.1 L627.5,29.3 L628.0,32.4 L628.5,36.4 L629.0,41.1 L629.5,46.4 L630.0,52.0 L630.5,57.8 L631.0,63.7 L631.5,69.6 L632.0,75.2 L632.5,80.5 L633.0,85.4" fill="none" stroke="#4050e0" stroke-width="1.2"/>
<path clip-path="url(#cb)" d="M352.0,88.5 L352.5,85.9 L353.0,83.3 L353.5,81.0 L354.0,78.9 L354.5,77.0 L355.0,75.6 L355.5,74.5 L356.0,73.9 L356.5,73.8 L357.0,74.1 L357.5,74.8 L358.0,75.9 L358.5,77.4 L359.0,79.0 L359.5,80.9 L360.0,82.8 L360.5,84.7 L361.0,86.5 L361.5,88.1 L362.0,89.5 L362.5,90.6 L363.0,91.4 L363.5,91.8 L364.0,91.8 L364.5,91.5 L365.0,90.9 L365.5,90.1 L366.0,89.1 L366.5,87.9 L367.0,86.7 L367.5,85.6 L368.0,84.5 L368.5,83.6 L369.0,83.0 L369.5,82.7 L370.0,82.6 L370.5,82.9 L371.0,83.6 L371.5,84.5 L372.0,85.8 L372.5,87.3 L373.0,89.0 L373.5,90.9 L374.0,92.9 L374.5,95.0 L375.0,97.0 L375.5,99.0 L376.0,100.9 L376.5,102.7 L377.0,104.3 L377.5,105.8 L378.0,107.1 L378.5,108.3 L379.0,109.3 L379.5,110.1 L380.0,110.8 L380.5,111.4 L381.0,111.9 L381.5,112.2 L382.0,112.5 L382.5,112.8 L383.0,112.9 L383.5,113.1 L384.0,113.2 L384.5,113.2 L385.0,113.3 L385.5,113.3 L386.0,113.3 L386.5,113.4 L387.0,113.4 L387.5,113.4 L388.0,113.4 L388.5,113.4 L389.0,113.4 L389.5,113.4 L390.0,113.4 L390.5,113.4 L391.0,113.4 L391.5,113.4 L392.0,113.4 L392.5,113.4 L393.0,113.4 L393.5,113.4 L394.0,113.4 L394.5,113.4 L395.0,113.4 L395.5,113.4 L396.0,113.4 L396.5,113.4 L397.0,113.4 L397.5,113.4 L398.0,113.4 L398.5,113.4 L399.0,113.4 L399.5,113.4 L400.0,113.4 L400.5,113.4 L401.0,113.4 L401.5,113.4 L402.0,113.4 L402.5,113.4 L403.0,113.4 L403.5,113.4 L404.0,113.4 L404.5,113.4 L405.0,113.4 L405.5,113.4 L406.0,113.4 L406.5,113.4 L407.0,113.4 L407.5,113.4 L408.0,113.4 L408.5,113.4 L409.0,113.4 L409.5,113.4 L410.0,113.4 L410.5,113.4 L411.0,113.4 L411.5,113.4 L412.0,113.4 L412.5,113.4 L413.0,113.4 L413.5,113.4 L414.0,113.4 L414.5,113.4 L415.0,113.4 L415.5,113.4 L416.0,113.3 L416.5,113.3 L417.0,113.3 L417.5,113.2 L418.0,113.1 L418.5,113.0 L419.0,112.9 L419.5,112.6 L420.0,112.4 L420.5,112.0 L421.0,111.6 L421.5,111.0 L422.0,110.3 L422.5,109.4 L423.0,108.4 L423.5,107.2 L424.0,105.7 L424.5,104.0 L425.0,102.1 L425.5,100.0 L426.0,97.7 L426.5,95.2 L427.0,92.6 L427.5,89.9 L428.0,87.2 L428.5,84.5 L429.0,81.9 L429.5,79.6 L430.0,77.5 L430.5,75.7 L431.0,74.3 L431.5,73.4 L432.0,72.9 L432.5,73.0 L433.0,73.5 L433.5,74.6 L434.0,76.0 L434.5,77.9 L435.0,80.0 L435.5,82.4 L436.0,85.0 L436.5,87.7 L437.0,90.5 L437.5,93.2 L438.0,95.7 L438.5,98.2 L439.0,100.4 L439.5,102.5 L440.0,104.3 L440.5,105.9 L441.0,107.3 L441.5,108.4 L442.0,109.3 L442.5,110.0 L443.0,110.5 L443.5,110.9 L444.0,111.0 L444.5,111.0 L445.0,110.8 L445.5,110.4 L446.0,109.8 L446.5,109.0 L447.0,108.0 L447.5,106.8 L448.0,105.4 L448.5,103.7 L449.0,101.9 L449.5,99.8 L450.0,97.6 L450.5,95.1 L451.0,92.6 L451.5,90.0 L452.0,87.5 L452.5,84.9 L453.0,82.5 L453.5,80.4 L454.0,78.5 L454.5,76.9 L455.0,75.7 L455.5,75.0 L456.0,74.7 L456.5,74.8 L457.0,75.4 L457.5,76.4 L458.0,77.7 L458.5,79.3 L459.0,81.1 L459.5,83.1 L460.0,85.0 L460.5,87.0 L461.0,88.8 L461.5,90.4 L462.0,91.8 L462.5,92.9 L463.0,93.6 L463.5,94.0 L464.0,94.1 L464.5,93.9 L465.0,93.5 L465.5,92.8 L466.0,91.9 L466.5,91.0 L467.0,90.0 L467.5,89.1 L468.0,88.3 L468.5,87.6 L469.0,87.2 L469.5,87.0 L470.0,87.1 L470.5,87.5 L471.0,88.2 L471.5,89.1 L472.0,90.3 L472.5,91.6 L473.0,93.2 L473.5,94.8 L474.0,96.6 L474.5,98.3 L475.0,100.1 L475.5,101.7 L476.0,103.3 L476.5,104.8 L477.0,106.2 L477.5,107.4 L478.0,108.5 L478.5,109.4 L479.0,110.2 L479.5,110.9 L480.0,111.4 L480.5,111.9 L481.0,112.2 L481.5,112.5 L482.0,112.7 L482.5,112.9 L483.0,113.0 L483.5,113.1 L484.0,113.2 L484.5,113.3 L485.0,113.3 L485.5,113.3 L486.0,113.4 L486.5,113.4 L487.0,113.4 L487.5,113.4 L488.0,113.4 L488.5,113.4 L489.0,113.4 L489.5,113.4 L490.0,113.4 L490.5,113.4 L491.0,113.4 L491.5,113.4 L492.0,113.4 L492.5,113.4 L493.0,113.4 L493.5,113.4 L494.0,113.4 L494.5,113.4 L495.0,113.4 L495.5,113.4 L496.0,113.4 L496.5,113.4 L497.0,113.4 L497.5,113.4 L498.0,113.4 L498.5,113.4 L499.0,113.4 L499.5,113.4 L500.0,113.4 L500.5,113.4 L501.0,113.4 L501.5,113.4 L502.0,113.4 L502.5,113.4 L503.0,113.4 L503.5,113.4 L504.0,113.4 L504.5,113.3 L505.0,113.3 L505.5,113.3 L506.0,113.2 L506.5,113.1 L507.0,113.0 L507.5,112.9 L508.0,112.7 L508.5,112.5 L509.0,112.1 L509.5,111.7 L510.0,111.2 L510.5,110.5 L511.0,109.7 L511.5,108.7 L512.0,107.6 L512.5,106.2 L513.0,104.6 L513.5,102.8 L514.0,100.8 L514.5,98.6 L515.0,96.2 L515.5,93.7 L516.0,91.1 L516.5,88.4 L517.0,85.8 L517.5,83.3 L518.0,80.9 L518.5,78.8 L519.0,77.0 L519.5,75.6 L520.0,74.5 L520.5,74.0 L521.0,73.9 L521.5,74.3 L522.0,75.1 L522.5,76.3 L523.0,77.9 L523.5,79.7 L524.0,81.8 L524.5,83.9 L525.0,86.1 L525.5,88.3 L526.0,90.3 L526.5,92.1 L527.0,93.6 L527.5,94.8 L528.0,95.7 L528.5,96.2 L529.0,96.4 L529.5,96.2 L530.0,95.7 L530.5,95.0 L531.0,94.0 L531.5,92.9 L532.0,91.7 L532.5,90.4 L533.0,89.3 L533.5,88.2 L534.0,87.3 L534.5,86.7 L535.0,86.3 L535.5,86.2 L536.0,86.4 L536.5,87.0 L537.0,87.8 L537.5,88.9 L538.0,90.2 L538.5,91.8 L539.0,93.4 L539.5,95.2 L540.0,97.0 L540.5,98.8 L541.0,100.6 L541.5,102.3 L542.0,103.9 L542.5,105.3 L543.0,106.7 L543.5,107.8 L544.0,108.9 L544.5,109.7 L545.0,110.5 L545.5,111.1 L546.0,111.6 L546.5,112.0 L547.0,112.4 L547.5,112.6 L548.0,112.8 L548.5,113.0 L549.0,113.1 L549.5,113.2 L550.0,113.2 L550.5,113.3 L551.0,113.3 L551.5,113.4 L552.0,113.4 L552.5,113.4 L553.0,113.4 L553.5,113.4 L554.0,113.4 L554.5,113.4 L555.0,113.4 L555.5,113.4 L556.0,113.4 L556.5,113.4 L557.0,113.4 L557.5,113.4 L558.0,113.4 L558.5,113.4 L559.0,113.4 L559.5,113.4 L560.0,113.4 L560.5,113.4 L561.0,113.4 L561.5,113.4 L562.0,113.4 L562.5,113.4 L563.0,113.4 L563.5,113.4 L564.0,113.4 L564.5,113.4 L565.0,113.4 L565.5,113.4 L566.0,113.4 L566.5,113.4 L567.0,113.4 L567.5,113.4 L568.0,113.4 L568.5,113.4 L569.0,113.4 L569.5,113.4 L570.0,113.4 L570.5,113.4 L571.0,113.4 L571.5,113.4 L572.0,113.4 L572.5,113.4 L573.0,113.4 L573.5,113.4 L574.0,113.4 L574.5,113.4 L575.0,113.4 L575.5,113.4 L576.0,113.4 L576.5,113.4 L577.0,113.4 L577.5,113.4 L578.0,113.4 L578.5,113.4 L579.0,113.4 L579.5,113.4 L580.0,113.4 L580.5,113.4 L581.0,113.4 L581.5,113.4 L582.0,113.4 L582.5,113.4 L583.0,113.4 L583.5,113.4 L584.0,113.4 L584.5,113.4 L585.0,113.4 L585.5,113.4 L586.0,113.4 L586.5,113.4 L587.0,113.4 L587.5,113.4 L588.0,113.4 L588.5,113.4 L589.0,113.4 L589.5,113.4 L590.0,113.4 L590.5,113.4 L591.0,113.4 L591.5,113.4 L592.0,113.4 L592.5,113.4 L593.0,113.4 L593.5,113.4 L594.0,113.4 L594.5,113.4 L595.0,113.4 L595.5,113.4 L596.0,113.4 L596.5,113.4 L597.0,113.4 L597.5,113.4 L598.0,113.4 L598.5,113.4 L599.0,113.4 L599.5,113.4 L600.0,113.4 L600.5,113.4 L601.0,113.4 L601.5,113.4 L602.0,113.4 L602.5,113.4 L603.0,113.4 L603.5,113.4 L604.0,113.4 L604.5,113.4 L605.0,113.4 L605.5,113.4 L606.0,113.4 L606.5,113.4 L607.0,113.4 L607.5,113.4 L608.0,113.4 L608.5,113.4 L609.0,113.4 L609.5,113.4 L610.0,113.4 L610.5,113.4 L611.0,113.4 L611.5,113.4 L612.0,113.4 L612.5,113.4 L613.0,113.4 L613.5,113.4 L614.0,113.4 L614.5,113.4 L615.0,113.4 L615.5,113.4 L616.0,113.4 L616.5,113.4 L617.0,113.4 L617.5,113.4 L618.0,113.4 L618.5,113.4 L619.0,113.4 L619.5,113.4 L620.0,113.4 L620.5,113.4 L621.0,113.4 L621.5,113.4 L622.0,113.4 L622.5,113.4 L623.0,113.4 L623.5,113.4 L624.0,113.4 L624.5,113.4 L625.0,113.4 L625.5,113.4 L626.0,113.4 L626.5,113.4 L627.0,113.4 L627.5,113.4 L628.0,113.4 L628.5,113.4 L629.0,113.4 L629.5,113.4 L630.0,113.4 L630.5,113.4 L631.0,113.4 L631.5,113.4 L632.0,113.4 L632.5,113.4 L633.0,113.4" fill="none" stroke="#ee4444" stroke-width="1.2"/>
<text x="36.3" y="22.7" font-size="9.6" text-anchor="middle" fill="#ee5555" stroke="#ee5555" stroke-width="0.25">T</text>
<text x="50" y="22.7" font-size="9.6" text-anchor="middle" fill="#ee5555" stroke="#ee5555" stroke-width="0.25">T</text>
<text x="55.6" y="22.7" font-size="9.6" text-anchor="middle" fill="#555555" stroke="#555555" stroke-width="0.25">G</text>
<text x="84" y="22.7" font-size="9.6" text-anchor="middle" fill="#555555" stroke="#555555" stroke-width="0.25">G</text>
<text x="99.7" y="22.7" font-size="9.6" text-anchor="middle" fill="#5555dd" stroke="#5555dd" stroke-width="0.25">C</text>
<text x="116.5" y="22.7" font-size="9.6" text-anchor="middle" fill="#ee5555" stroke="#ee5555" stroke-width="0.25">T</text>
<text x="126.5" y="22.7" font-size="9.6" text-anchor="middle" fill="#5555dd" stroke="#5555dd" stroke-width="0.25">C</text>
<text x="140.8" y="22.7" font-size="9.6" text-anchor="middle" fill="#ee5555" stroke="#ee5555" stroke-width="0.25">T</text>
<text x="155.3" y="22.7" font-size="9.6" text-anchor="middle" fill="#ee5555" stroke="#ee5555" stroke-width="0.25">T</text>
<text x="170.4" y="22.7" font-size="9.6" text-anchor="middle" fill="#66b37a" stroke="#66b37a" stroke-width="0.25">A</text>
<text x="183.8" y="22.7" font-size="9.6" text-anchor="middle" fill="#ee5555" stroke="#ee5555" stroke-width="0.25">T</text>
<text x="197.6" y="22.7" font-size="9.6" text-anchor="middle" fill="#5555dd" stroke="#5555dd" stroke-width="0.25">C</text>
<text x="213" y="22.7" font-size="9.6" text-anchor="middle" fill="#ee5555" stroke="#ee5555" stroke-width="0.25">T</text>
<text x="227.6" y="22.7" font-size="9.6" text-anchor="middle" fill="#ee5555" stroke="#ee5555" stroke-width="0.25">T</text>
<text x="237" y="22.7" font-size="9.6" text-anchor="middle" fill="#555555" stroke="#555555" stroke-width="0.25">G</text>
<text x="263" y="22.7" font-size="9.6" text-anchor="middle" fill="#555555" stroke="#555555" stroke-width="0.25">G</text>
<text x="278.5" y="22.7" font-size="9.6" text-anchor="middle" fill="#66b37a" stroke="#66b37a" stroke-width="0.25">A</text>
<text x="293.5" y="22.7" font-size="9.6" text-anchor="middle" fill="#66b37a" stroke="#66b37a" stroke-width="0.25">A</text>
<text x="305.3" y="22.7" font-size="9.6" text-anchor="middle" fill="#555555" stroke="#555555" stroke-width="0.25">G</text>
<text x="318.6" y="22.7" font-size="9.6" text-anchor="middle" fill="#5555dd" stroke="#5555dd" stroke-width="0.25">C</text>
<text x="355" y="22.7" font-size="9.6" text-anchor="middle" fill="#ee5555" stroke="#ee5555" stroke-width="0.25">T</text>
<text x="368.3" y="22.7" font-size="9.6" text-anchor="middle" fill="#ee5555" stroke="#ee5555" stroke-width="0.25">T</text>
<text x="375" y="22.7" font-size="9.6" text-anchor="middle" fill="#555555" stroke="#555555" stroke-width="0.25">G</text>
<text x="401" y="22.7" font-size="9.6" text-anchor="middle" fill="#555555" stroke="#555555" stroke-width="0.25">G</text>
<text x="412" y="22.7" font-size="9.6" text-anchor="middle" fill="#5555dd" stroke="#5555dd" stroke-width="0.25">C</text>
<text x="431.5" y="22.7" font-size="9.6" text-anchor="middle" fill="#ee5555" stroke="#ee5555" stroke-width="0.25">T</text>
<text x="439.7" y="22.7" font-size="9.6" text-anchor="middle" fill="#5555dd" stroke="#5555dd" stroke-width="0.25">C</text>
<text x="455.3" y="22.7" font-size="9.6" text-anchor="middle" fill="#ee5555" stroke="#ee5555" stroke-width="0.25">T</text>
<text x="469" y="22.7" font-size="9.6" text-anchor="middle" fill="#ee5555" stroke="#ee5555" stroke-width="0.25">T</text>
<text x="481" y="22.7" font-size="9.6" text-anchor="middle" fill="#66b37a" stroke="#66b37a" stroke-width="0.25">A</text>
<text x="491.6" y="22.7" font-size="9.6" text-anchor="middle" fill="#5555dd" stroke="#5555dd" stroke-width="0.25">C</text>
<text x="506.8" y="22.7" font-size="9.6" text-anchor="middle" fill="#5555dd" stroke="#5555dd" stroke-width="0.25">C</text>
<text x="520.6" y="22.7" font-size="9.6" text-anchor="middle" fill="#ee5555" stroke="#ee5555" stroke-width="0.25">T</text>
<text x="535" y="22.7" font-size="9.6" text-anchor="middle" fill="#ee5555" stroke="#ee5555" stroke-width="0.25">T</text>
<text x="543.7" y="22.7" font-size="9.6" text-anchor="middle" fill="#555555" stroke="#555555" stroke-width="0.25">G</text>
<text x="569.5" y="22.7" font-size="9.6" text-anchor="middle" fill="#555555" stroke="#555555" stroke-width="0.25">G</text>
<text x="585.8" y="22.7" font-size="9.6" text-anchor="middle" fill="#66b37a" stroke="#66b37a" stroke-width="0.25">A</text>
<text x="599.5" y="22.7" font-size="9.6" text-anchor="middle" fill="#66b37a" stroke="#66b37a" stroke-width="0.25">A</text>
<text x="612" y="22.7" font-size="9.6" text-anchor="middle" fill="#555555" stroke="#555555" stroke-width="0.25">G</text>
<text x="624.6" y="22.7" font-size="9.6" text-anchor="middle" fill="#5555dd" stroke="#5555dd" stroke-width="0.25">C</text>
<text x="181.5" y="10.3" font-size="12.5" text-anchor="middle" fill="#111">-33</text>
<text x="490" y="10.3" font-size="12.5" text-anchor="middle" fill="#111">-33</text>
<rect x="178.2" y="14.2" width="10.6" height="10.2" fill="none" stroke="#222" stroke-width="1.3"/>
<rect x="486.8" y="14.5" width="10.6" height="10.2" fill="none" stroke="#222" stroke-width="1.3"/>
<text x="17.9" y="43" font-size="17" font-weight="bold" fill="#000">a</text>
<text x="339.9" y="45.9" font-size="17" font-weight="bold" fill="#000">b</text>
<text x="73.1" y="148.2" font-size="17" font-weight="bold" fill="#000">c</text>
<text x="72.9" y="431" font-size="17" font-weight="bold" fill="#000">d</text>
<path d="M65.2,132.5 V387.2 H636" fill="none" stroke="#777" stroke-width="1.6"/>
<path d="M515,387.2 H636" fill="none" stroke="#6a70c8" stroke-width="1.6"/>
<text x="58.9" y="153.04999999999998" font-size="14" text-anchor="end" font-weight="normal" fill="#111" letter-spacing="-0.3">0.014</text>
<text x="58.9" y="166.85" font-size="14" text-anchor="end" font-weight="normal" fill="#111" letter-spacing="-0.3">0.013</text>
<text x="58.9" y="180.64999999999998" font-size="14" text-anchor="end" font-weight="normal" fill="#111" letter-spacing="-0.3">0.012</text>
<text x="58.9" y="194.45" font-size="14" text-anchor="end" font-weight="normal" fill="#111" letter-spacing="-0.3">0.011</text>
<text x="58.9" y="209.95" font-size="14" text-anchor="end" font-weight="normal" fill="#111" letter-spacing="-0.3">0.010</text>
<text x="58.9" y="224.04999999999998" font-size="14" text-anchor="end" font-weight="normal" fill="#111" letter-spacing="-0.3">0.009</text>
<text x="58.9" y="237.95" font-size="14" text-anchor="end" font-weight="normal" fill="#111" letter-spacing="-0.3">0.008</text>
<text x="58.9" y="251.45" font-size="14" text-anchor="end" font-weight="normal" fill="#111" letter-spacing="-0.3">0.007</text>
<text x="58.9" y="266.05" font-size="14" text-anchor="end" font-weight="normal" fill="#111" letter-spacing="-0.3">0.006</text>
<text x="58.9" y="280.65" font-size="14" text-anchor="end" font-weight="normal" fill="#111" letter-spacing="-0.3">0.005</text>
<text x="58.9" y="294.65" font-size="14" text-anchor="end" font-weight="normal" fill="#111" letter-spacing="-0.3">0.004</text>
<text x="58.9" y="308.75" font-size="14" text-anchor="end" font-weight="normal" fill="#111" letter-spacing="-0.3">0.003</text>
<text x="58.9" y="323.95" font-size="14" text-anchor="end" font-weight="normal" fill="#111" letter-spacing="-0.3">0.002</text>
<text x="58.9" y="337.95" font-size="14" text-anchor="end" font-weight="normal" fill="#111" letter-spacing="-0.3">0.001</text>
<text x="58.9" y="352.75" font-size="14" text-anchor="end" font-weight="normal" fill="#111" letter-spacing="-0.3">0.000</text>
<text x="58.9" y="368.34999999999997" font-size="14" text-anchor="end" font-weight="normal" fill="#111" letter-spacing="-0.3">-0.001</text>
<text x="58.9" y="382.84999999999997" font-size="14" text-anchor="end" font-weight="normal" fill="#111" letter-spacing="-0.3">-0.002</text>
<text x="58.9" y="427.65" font-size="14" text-anchor="end" font-weight="normal" fill="#111" letter-spacing="-0.3">0.017</text>
<text x="58.9" y="441.45" font-size="14" text-anchor="end" font-weight="normal" fill="#111" letter-spacing="-0.3">0.016</text>
<text x="58.9" y="456.75" font-size="14" text-anchor="end" font-weight="normal" fill="#111" letter-spacing="-0.3">0.015</text>
<text x="58.9" y="470.95" font-size="14" text-anchor="end" font-weight="normal" fill="#111" letter-spacing="-0.3">0.014</text>
<text x="58.9" y="485.15" font-size="14" text-anchor="end" font-weight="normal" fill="#111" letter-spacing="-0.3">0.013</text>
<text x="58.9" y="499.65" font-size="14" text-anchor="end" font-weight="normal" fill="#111" letter-spacing="-0.3">0.012</text>
<text x="58.9" y="513.65" font-size="14" text-anchor="end" font-weight="normal" fill="#111" letter-spacing="-0.3">0.011</text>
<text x="58.9" y="528.75" font-size="14" text-anchor="end" font-weight="normal" fill="#111" letter-spacing="-0.3">0.010</text>
<text x="58.9" y="542.45" font-size="14" text-anchor="end" font-weight="normal" fill="#111" letter-spacing="-0.3">0.009</text>
<text x="58.9" y="556.35" font-size="14" text-anchor="end" font-weight="normal" fill="#111" letter-spacing="-0.3">0.008</text>
<text x="58.9" y="570.45" font-size="14" text-anchor="end" font-weight="normal" fill="#111" letter-spacing="-0.3">0.007</text>
<text x="58.9" y="584.6500000000001" font-size="14" text-anchor="end" font-weight="normal" fill="#111" letter-spacing="-0.3">0.006</text>
<text x="58.9" y="598.75" font-size="14" text-anchor="end" font-weight="normal" fill="#111" letter-spacing="-0.3">0.005</text>
<text x="58.9" y="613.25" font-size="14" text-anchor="end" font-weight="normal" fill="#111" letter-spacing="-0.3">0.004</text>
<text x="58.9" y="627.1500000000001" font-size="14" text-anchor="end" font-weight="normal" fill="#111" letter-spacing="-0.3">0.003</text>
<text x="58.9" y="641.6500000000001" font-size="14" text-anchor="end" font-weight="normal" fill="#111" letter-spacing="-0.3">0.002</text>
<text x="58.9" y="656.25" font-size="14" text-anchor="end" font-weight="normal" fill="#111" letter-spacing="-0.3">0.001</text>
<text x="58.9" y="670.85" font-size="14" text-anchor="end" font-weight="normal" fill="#111" letter-spacing="-0.3">0.000</text>
<text x="58.9" y="686.0500000000001" font-size="14" text-anchor="end" font-weight="normal" fill="#111" letter-spacing="-0.3">-0.001</text>
<text x="58.9" y="700.6500000000001" font-size="14" text-anchor="end" font-weight="normal" fill="#111" letter-spacing="-0.3">-0.002</text>
<path d="M65.5,410.6 V704.4 H636" fill="none" stroke="#777" stroke-width="1.6"/>
<text x="88.35000000000001" y="400.7" font-size="14" text-anchor="middle" font-weight="normal" fill="#111" letter-spacing="-0.3">50</text>
<text x="130.65" y="400.7" font-size="14" text-anchor="middle" font-weight="normal" fill="#111" letter-spacing="-0.3">52</text>
<text x="172.75" y="400.7" font-size="14" text-anchor="middle" font-weight="normal" fill="#111" letter-spacing="-0.3">54</text>
<text x="217.75" y="400.7" font-size="14" text-anchor="middle" font-weight="normal" fill="#111" letter-spacing="-0.3">56</text>
<text x="263.54999999999995" y="400.7" font-size="14" text-anchor="middle" font-weight="normal" fill="#111" letter-spacing="-0.3">58</text>
<text x="308.25" y="400.7" font-size="14" text-anchor="middle" font-weight="normal" fill="#111" letter-spacing="-0.3">60</text>
<text x="354.45" y="401.4" font-size="14" text-anchor="middle" font-weight="normal" fill="#111" letter-spacing="-0.3">62</text>
<text x="400.45" y="400.5" font-size="14" text-anchor="middle" font-weight="normal" fill="#111" letter-spacing="-0.3">64</text>
<text x="447.75" y="401.4" font-size="14" text-anchor="middle" font-weight="normal" fill="#111" letter-spacing="-0.3">66</text>
<text x="491.25" y="401" font-size="14" text-anchor="middle" font-weight="normal" fill="#111" letter-spacing="-0.3">68</text>
<text x="534.65" y="401" font-size="14" text-anchor="middle" font-weight="normal" fill="#111" letter-spacing="-0.3">70</text>
<text x="576.4499999999999" y="399.3" font-size="14" text-anchor="middle" font-weight="normal" fill="#111" letter-spacing="-0.3">72</text>
<text x="613.9499999999999" y="401" font-size="14" text-anchor="middle" font-weight="normal" fill="#111" letter-spacing="-0.3">74</text>
<text x="88.85000000000001" y="718.3" font-size="14" text-anchor="middle" font-weight="normal" fill="#111" letter-spacing="-0.3">50</text>
<text x="131.15" y="718.3" font-size="14" text-anchor="middle" font-weight="normal" fill="#111" letter-spacing="-0.3">52</text>
<text x="173.45000000000002" y="718.3" font-size="14" text-anchor="middle" font-weight="normal" fill="#111" letter-spacing="-0.3">54</text>
<text x="218.15" y="718.3" font-size="14" text-anchor="middle" font-weight="normal" fill="#111" letter-spacing="-0.3">56</text>
<text x="263.45" y="718.3" font-size="14" text-anchor="middle" font-weight="normal" fill="#111" letter-spacing="-0.3">58</text>
<text x="308.15" y="718.3" font-size="14" text-anchor="middle" font-weight="normal" fill="#111" letter-spacing="-0.3">60</text>
<text x="354.25" y="718.3" font-size="14" text-anchor="middle" font-weight="normal" fill="#111" letter-spacing="-0.3">62</text>
<text x="399.95" y="718.3" font-size="14" text-anchor="middle" font-weight="normal" fill="#111" letter-spacing="-0.3">64</text>
<text x="446.95" y="718.3" font-size="14" text-anchor="middle" font-weight="normal" fill="#111" letter-spacing="-0.3">66</text>
<text x="490.54999999999995" y="718.3" font-size="14" text-anchor="middle" font-weight="normal" fill="#111" letter-spacing="-0.3">68</text>
<text x="533.65" y="718.3" font-size="14" text-anchor="middle" font-weight="normal" fill="#111" letter-spacing="-0.3">70</text>
<text x="576.55" y="717.3" font-size="14" text-anchor="middle" font-weight="normal" fill="#111" letter-spacing="-0.3">72</text>
<text x="613.65" y="718.3" font-size="14" text-anchor="middle" font-weight="normal" fill="#111" letter-spacing="-0.3">74</text>
<text x="376.7" y="417.2" font-size="14" text-anchor="middle" font-weight="normal" fill="#111" letter-spacing="-0.15">Melting Temperature (°C)</text>
<text x="378.9" y="737.8" font-size="14" text-anchor="middle" font-weight="normal" fill="#111" letter-spacing="-0.15">Melting Temperature (°C)</text>
<text transform="translate(11.8,262.9) rotate(-90)" font-size="13.6" font-weight="bold" text-anchor="middle" fill="#111">(d/dT) Fluorescence (670/530)</text>
<text transform="translate(10.9,567) rotate(-90)" font-size="13.6" font-weight="bold" text-anchor="middle" fill="#111">(d/dT) Fluorescence (670/530)</text>
<text transform="translate(88,190.8) scale(1.12,1)" font-size="15" fill="#111">Reference</text>
<text transform="translate(88.4,210.2) scale(1.12,1)" font-size="15" fill="#111">samples</text>
<text transform="translate(87.6,474) scale(1.12,1)" font-size="15" fill="#111">Collected</text>
<text transform="translate(87.8,494.4) scale(1.12,1)" font-size="15" fill="#111">samples</text>
<path d="M79.4,348.7 C91.2,348.8 129.9,349.0 150.0,349.2 C170.1,349.4 181.7,349.9 200.0,349.8 C218.3,349.7 243.3,349.0 260.0,348.6 C276.7,348.2 288.3,348.0 300.0,347.5 C311.7,347.0 317.0,346.6 330.0,345.6 C343.0,344.6 366.5,341.8 378.2,341.4 C389.9,341.0 393.4,342.3 400.0,343.5 C406.6,344.7 410.6,345.9 417.8,348.4 C425.0,350.9 434.6,356.5 443.3,358.4 C452.0,360.3 450.6,359.6 470.0,359.8 C489.4,360.0 532.3,359.6 560.0,359.4 C587.7,359.2 623.3,358.7 636.0,358.6" fill="none" stroke="#e39acb" stroke-width="1.1" stroke-linejoin="round" stroke-linecap="round" />
<path d="M79.4,349.6 C91.2,349.7 129.9,350.0 150.0,350.3 C170.1,350.6 181.7,350.9 200.0,351.2 C218.3,351.5 238.3,351.9 260.0,352.0 C281.7,352.1 311.2,352.2 330.0,352.1 C348.8,352.0 360.8,351.1 372.5,351.3 C384.2,351.5 392.4,352.3 400.0,353.5 C407.6,354.7 411.1,356.4 417.8,358.4 C424.6,360.3 431.8,364.5 440.5,365.2 C449.2,365.9 460.1,363.5 470.0,362.6 C479.9,361.7 485.0,360.2 500.0,359.8 C515.0,359.4 537.3,360.2 560.0,360.2 C582.7,360.2 623.3,359.7 636.0,359.6" fill="none" stroke="#a0a0dc" stroke-width="1.1" stroke-linejoin="round" stroke-linecap="round" />
<path d="M72.7,354.8 C75.3,354.7 80.9,355.1 88.2,354.2 C95.5,353.2 107.0,351.4 116.4,349.1 C125.8,346.9 135.2,343.7 144.6,340.7 C154.0,337.7 162.6,334.4 172.9,331.0 C183.2,327.6 197.7,323.2 206.7,320.2 C215.7,317.2 219.7,315.6 227.0,313.0 C234.3,310.4 241.7,308.2 250.5,304.9 C259.3,301.6 269.8,297.4 280.0,293.1 C290.2,288.8 304.4,282.5 311.5,279.1 C318.6,275.8 319.4,275.1 322.5,273.0 C325.6,270.9 326.8,269.6 330.0,266.5 C333.2,263.4 337.9,259.1 341.9,254.6 C345.9,250.2 350.2,244.7 353.8,239.8 C357.4,234.9 359.9,231.2 363.4,225.0 C366.9,218.8 371.6,208.7 375.0,202.5 C378.4,196.3 380.9,192.3 383.8,187.6 C386.7,182.9 389.7,178.4 392.6,174.5 C395.5,170.6 398.4,167.0 401.3,164.4 C404.2,161.8 407.3,160.1 410.1,158.8 C412.9,157.6 415.8,156.9 418.3,156.9 C420.8,156.9 422.8,157.2 425.2,158.8 C427.6,160.4 430.2,163.1 432.7,166.3 C435.2,169.5 437.7,173.8 440.2,178.2 C442.7,182.6 445.7,188.4 447.7,192.6 C449.7,196.8 450.3,198.8 452.0,203.5 C453.7,208.2 455.7,213.8 458.0,221.0 C460.3,228.2 463.1,238.6 465.6,246.7 C468.2,254.8 470.7,262.4 473.3,269.7 C475.9,277.0 478.4,283.9 481.0,290.3 C483.6,296.7 485.7,301.8 488.7,308.2 C491.7,314.6 495.6,322.7 499.0,328.7 C502.4,334.7 505.8,339.8 509.2,344.1 C512.6,348.4 516.5,352.2 519.5,354.4 C522.5,356.6 523.3,356.3 527.2,357.2 C531.1,358.1 533.2,359.3 543.0,359.6 C552.8,359.9 577.0,358.8 586.0,358.9 C595.0,359.0 588.7,360.0 597.0,360.0 C605.3,360.0 629.5,359.2 636.0,359.0" fill="none" stroke="#2430b8" stroke-width="1.7" stroke-linejoin="round" stroke-linecap="round" />
<path d="M65.5,375.6 C66.8,375.5 69.4,375.9 73.2,375.0 C77.0,374.1 81.0,372.7 88.2,370.3 C95.4,367.9 107.0,363.9 116.4,360.4 C125.8,356.9 135.2,352.9 144.6,349.1 C154.0,345.3 164.9,341.1 172.9,337.8 C180.9,334.5 186.5,332.5 192.6,329.4 C198.7,326.3 204.3,322.9 209.5,319.3 C214.7,315.7 219.9,311.1 223.7,307.5 C227.5,303.9 229.3,301.2 232.5,297.5 C235.7,293.8 239.2,290.1 242.7,285.3 C246.2,280.5 250.5,274.1 253.7,268.8 C256.9,263.5 259.8,257.7 262.0,253.5 C264.2,249.3 264.8,247.9 267.0,243.5 C269.2,239.1 272.7,232.6 275.5,227.3 C278.3,222.0 281.2,216.7 284.0,211.7 C286.8,206.7 289.4,202.5 292.5,197.5 C295.6,192.5 299.1,186.3 302.4,181.9 C305.7,177.5 309.1,173.9 312.4,171.3 C315.7,168.7 319.0,166.4 322.3,166.1 C325.6,165.8 328.4,166.1 332.2,169.2 C336.0,172.3 341.3,179.3 344.9,184.9 C348.5,190.5 350.7,196.0 353.8,202.7 C356.9,209.4 360.7,218.6 363.4,225.0 C366.1,231.4 367.8,235.4 370.1,241.3 C372.5,247.2 375.3,254.7 377.5,260.6 C379.7,266.6 381.5,271.7 383.5,277.0 C385.5,282.3 387.1,286.7 389.5,292.5 C391.9,298.3 395.2,305.8 398.0,311.6 C400.8,317.4 403.2,322.2 406.5,327.2 C409.8,332.2 414.0,337.6 417.8,341.4 C421.6,345.2 424.9,347.8 429.2,349.9 C433.4,352.0 436.5,353.2 443.3,354.1 C450.1,355.0 457.2,355.0 470.0,355.5 C482.8,356.0 505.0,356.8 520.0,357.2 C535.0,357.6 540.7,357.8 560.0,357.9 C579.3,358.0 623.3,357.7 636.0,357.6" fill="none" stroke="#d8206c" stroke-width="1.7" stroke-linejoin="round" stroke-linecap="round" />
<line x1="322.4" y1="157.3" x2="322.4" y2="374.8" stroke="#6a6a6a" stroke-width="1.3"/>
<line x1="418.4" y1="157.3" x2="418.4" y2="375" stroke="#6aa57a" stroke-width="1.3"/>
<line x1="188.9" y1="24.4" x2="268.2" y2="223.5" stroke="#222" stroke-width="1.1" marker-end="url(#ah)"/>
<line x1="492.6" y1="24.8" x2="458.5" y2="217.5" stroke="#222" stroke-width="1.1" marker-end="url(#ah)"/>
<text x="209.3" y="231.7" font-size="15" text-anchor="start" font-weight="normal" fill="#111" letter-spacing="0.2">-33TT</text>
<text x="466.6" y="220.3" font-size="15" text-anchor="start" font-weight="normal" fill="#111" letter-spacing="0.2">-33CC</text>
<text x="148.2" y="380.9" font-size="15" text-anchor="start" font-weight="normal" fill="#111" letter-spacing="0.1">Negative controls</text>
<line x1="224" y1="367.8" x2="238.2" y2="357.2" stroke="#222" stroke-width="1.1" marker-end="url(#ah)"/>
<path d="M66.0,671.0 C78.3,671.1 117.7,671.5 140.0,671.5 C162.3,671.5 180.0,671.2 200.0,671.0 C220.0,670.8 239.7,670.5 260.0,670.5 C280.3,670.5 306.3,670.9 322.0,670.8 C337.7,670.7 343.7,669.1 354.0,670.0 C364.3,670.9 373.3,673.3 384.0,676.0 C394.7,678.7 407.3,685.1 418.0,686.0 C428.7,686.9 436.8,682.8 448.0,681.4 C459.2,680.0 471.3,678.3 485.0,677.6 C498.7,676.9 504.5,677.3 530.0,677.3 C555.5,677.2 620.0,677.3 638.0,677.3" fill="none" stroke="#c9a88a" stroke-width="1.0" stroke-linejoin="round" stroke-linecap="round" />
<path d="M66.0,673.0 C78.3,673.1 117.7,673.6 140.0,673.5 C162.3,673.4 180.0,672.7 200.0,672.5 C220.0,672.3 239.7,672.5 260.0,672.5 C280.3,672.5 306.3,672.5 322.0,672.5 C337.7,672.5 343.7,671.6 354.0,672.5 C364.3,673.4 373.3,676.0 384.0,678.0 C394.7,680.0 407.3,684.0 418.0,684.5 C428.7,685.0 436.8,682.2 448.0,681.0 C459.2,679.8 471.3,678.1 485.0,677.5 C498.7,676.9 504.5,677.5 530.0,677.5 C555.5,677.5 620.0,677.5 638.0,677.5" fill="none" stroke="#b07878" stroke-width="1.0" stroke-linejoin="round" stroke-linecap="round" />
<path d="M66.0,669.5 C78.3,669.6 117.7,669.8 140.0,670.0 C162.3,670.2 180.0,670.4 200.0,670.5 C220.0,670.6 239.7,670.4 260.0,670.5 C280.3,670.6 306.3,670.9 322.0,671.0 C337.7,671.1 343.7,670.3 354.0,671.0 C364.3,671.7 373.3,673.0 384.0,675.0 C394.7,677.0 407.3,682.1 418.0,683.0 C428.7,683.9 436.8,681.5 448.0,680.5 C459.2,679.5 471.3,677.9 485.0,677.3 C498.7,676.7 504.5,677.0 530.0,677.0 C555.5,677.0 620.0,677.0 638.0,677.0" fill="none" stroke="#9a9ac8" stroke-width="1.0" stroke-linejoin="round" stroke-linecap="round" />
<path d="M66.0,674.0 C78.3,674.0 117.7,674.0 140.0,674.0 C162.3,674.0 180.0,674.1 200.0,674.0 C220.0,673.9 239.7,673.6 260.0,673.5 C280.3,673.4 306.3,673.5 322.0,673.5 C337.7,673.5 343.7,671.6 354.0,673.5 C364.3,675.4 375.8,682.5 384.0,685.0 C392.2,687.5 395.3,688.0 403.0,688.2 C410.7,688.4 420.5,687.4 430.0,686.0 C439.5,684.6 448.3,681.4 460.0,680.0 C471.7,678.6 470.3,678.0 500.0,677.6 C529.7,677.2 615.0,677.6 638.0,677.6" fill="none" stroke="#d2d2c8" stroke-width="1.0" stroke-linejoin="round" stroke-linecap="round" />
<path d="M66.0,672.0 C78.3,672.0 117.7,672.1 140.0,672.0 C162.3,671.9 180.0,671.6 200.0,671.5 C220.0,671.4 239.7,671.5 260.0,671.5 C280.3,671.5 306.3,671.5 322.0,671.5 C337.7,671.5 343.7,670.6 354.0,671.5 C364.3,672.4 373.3,674.4 384.0,677.0 C394.7,679.6 407.3,686.2 418.0,687.0 C428.7,687.8 436.8,683.5 448.0,682.0 C459.2,680.5 471.3,678.8 485.0,678.0 C498.7,677.2 504.5,677.6 530.0,677.5 C555.5,677.4 620.0,677.5 638.0,677.5" fill="none" stroke="#a07060" stroke-width="1.0" stroke-linejoin="round" stroke-linecap="round" />
<path d="M66.0,667.5 C78.3,667.5 117.7,667.9 140.0,667.8 C162.3,667.7 180.0,667.2 200.0,667.0 C220.0,666.8 245.0,666.5 260.0,666.5 C275.0,666.5 280.0,667.1 290.0,667.1 C300.0,667.1 309.3,667.2 320.0,666.3 C330.7,665.4 343.3,662.3 354.0,661.8 C364.7,661.3 373.3,662.2 384.0,663.3 C394.7,664.4 407.3,666.8 418.0,668.2 C428.7,669.7 436.7,670.8 448.0,672.0 C459.3,673.2 471.9,674.9 485.6,675.7 C499.3,676.5 504.6,676.7 530.0,676.9 C555.4,677.1 620.0,677.0 638.0,677.0" fill="none" stroke="#d88ac4" stroke-width="1.0" stroke-linejoin="round" stroke-linecap="round" />
<path d="M66.0,667.5 C78.3,665.1 117.7,659.0 140.0,653.1 C162.3,647.2 180.0,639.1 200.0,632.2 C220.0,625.4 239.7,618.6 260.0,611.7 C280.3,604.9 307.2,597.0 322.0,591.2 C336.8,585.3 341.2,582.6 349.0,576.9 C356.8,571.1 363.5,562.1 369.0,556.5 C374.5,550.9 377.5,547.5 382.0,543.3 C386.5,539.1 391.3,535.0 396.0,531.3 C400.7,527.6 405.7,523.9 410.0,521.3 C414.3,518.7 418.0,516.8 422.0,515.8 C426.0,514.8 430.0,513.9 434.0,515.0 C438.0,516.1 442.3,518.4 446.0,522.3 C449.7,526.2 453.0,532.6 456.0,538.3 C459.0,544.0 461.3,549.8 464.0,556.3 C466.7,562.8 469.3,569.1 472.0,577.3 C474.7,585.5 477.2,596.5 480.0,605.3 C482.8,614.1 486.2,623.6 489.0,630.3 C491.8,637.0 493.9,640.6 496.6,645.3 C499.3,650.0 502.0,654.5 505.4,658.3 C508.8,662.1 513.6,665.5 516.7,668.3 C519.8,671.1 520.1,673.8 524.0,675.3 C527.9,676.8 521.0,676.7 540.0,677.0 C559.0,677.3 621.7,677.2 638.0,677.3" fill="none" stroke="#a0a0a0" stroke-width="1.0" stroke-linejoin="round" stroke-linecap="round" />
<path d="M66.0,677.0 C78.3,674.0 117.7,665.6 140.0,659.4 C162.3,653.2 180.0,646.6 200.0,639.8 C220.0,633.1 239.7,626.1 260.0,619.1 C280.3,612.2 307.8,604.3 322.0,598.2 C336.2,592.0 337.8,588.7 345.0,582.3 C352.2,575.8 359.5,565.8 365.0,559.7 C370.5,553.6 373.5,549.8 378.0,545.4 C382.5,541.1 387.3,537.1 392.0,533.4 C396.7,529.8 401.7,526.2 406.0,523.7 C410.3,521.2 414.0,519.4 418.0,518.4 C422.0,517.5 426.0,516.7 430.0,517.8 C434.0,519.0 438.3,521.3 442.0,525.2 C445.7,529.1 449.0,535.5 452.0,541.1 C455.0,546.7 457.3,552.5 460.0,558.8 C462.7,565.2 465.3,571.5 468.0,579.4 C470.7,587.4 473.2,598.1 476.0,606.7 C478.8,615.3 482.2,624.6 485.0,631.1 C487.8,637.7 489.9,641.3 492.6,645.9 C495.3,650.5 498.0,654.9 501.4,658.6 C504.8,662.4 508.9,665.7 512.7,668.5 C516.5,671.3 519.5,673.9 524.0,675.3 C528.5,676.7 521.0,676.7 540.0,677.0 C559.0,677.3 621.7,677.2 638.0,677.3" fill="none" stroke="#8a3a4a" stroke-width="1.0" stroke-linejoin="round" stroke-linecap="round" />
<path d="M66.0,671.0 C78.3,668.4 117.7,661.4 140.0,655.4 C162.3,649.4 180.0,641.9 200.0,635.1 C220.0,628.3 239.7,621.3 260.0,614.5 C280.3,607.7 307.7,599.8 322.0,594.0 C336.3,588.3 338.7,585.6 346.0,579.9 C353.3,574.2 360.5,565.4 366.0,559.9 C371.5,554.3 374.5,550.9 379.0,546.7 C383.5,542.5 388.3,538.3 393.0,534.7 C397.7,531.2 402.7,527.6 407.0,525.1 C411.3,522.7 415.0,521.0 419.0,520.0 C423.0,519.1 427.0,518.4 431.0,519.5 C435.0,520.7 439.3,523.1 443.0,526.9 C446.7,530.8 450.0,537.2 453.0,542.8 C456.0,548.4 458.3,554.1 461.0,560.4 C463.7,566.7 466.3,572.9 469.0,580.7 C471.7,588.6 474.2,599.1 477.0,607.5 C479.8,616.0 483.2,625.2 486.0,631.7 C488.8,638.1 490.9,641.7 493.6,646.3 C496.3,650.8 499.0,655.1 502.4,658.9 C505.8,662.6 510.1,665.9 513.7,668.6 C517.3,671.4 519.6,673.9 524.0,675.3 C528.4,676.7 521.0,676.7 540.0,677.0 C559.0,677.3 621.7,677.2 638.0,677.3" fill="none" stroke="#2a7a6a" stroke-width="1.0" stroke-linejoin="round" stroke-linecap="round" />
<path d="M66.0,682.9 C78.3,679.6 117.7,669.7 140.0,663.3 C162.3,656.9 180.0,651.2 200.0,644.6 C220.0,638.0 239.7,630.7 260.0,623.8 C280.3,616.8 307.8,609.0 322.0,602.9 C336.2,596.8 337.8,593.4 345.0,587.1 C352.2,580.7 359.5,570.9 365.0,564.8 C370.5,558.7 373.5,554.9 378.0,550.5 C382.5,546.1 387.3,542.1 392.0,538.6 C396.7,535.1 401.7,531.8 406.0,529.5 C410.3,527.2 414.0,525.6 418.0,524.8 C422.0,524.0 426.0,523.4 430.0,524.7 C434.0,525.9 438.3,528.3 442.0,532.2 C445.7,536.0 449.0,542.4 452.0,547.8 C455.0,553.3 457.3,558.8 460.0,565.0 C462.7,571.1 465.3,577.1 468.0,584.6 C470.7,592.1 473.2,602.0 476.0,610.1 C478.8,618.2 482.2,627.0 485.0,633.2 C487.8,639.4 489.9,643.0 492.6,647.3 C495.3,651.7 498.0,655.9 501.4,659.5 C504.8,663.1 508.9,666.3 512.7,669.0 C516.5,671.6 519.5,674.0 524.0,675.4 C528.5,676.7 521.0,676.7 540.0,677.0 C559.0,677.3 621.7,677.2 638.0,677.3" fill="none" stroke="#3a3a5a" stroke-width="1.0" stroke-linejoin="round" stroke-linecap="round" />
<path d="M66.0,673.4 C78.3,670.7 117.7,663.1 140.0,657.0 C162.3,650.9 180.0,643.8 200.0,637.0 C220.0,630.2 239.7,623.1 260.0,616.3 C280.3,609.6 307.5,601.8 322.0,596.4 C336.5,590.9 339.5,588.8 347.0,583.7 C354.5,578.6 361.5,570.9 367.0,565.9 C372.5,560.8 375.5,557.4 380.0,553.4 C384.5,549.3 389.3,545.0 394.0,541.6 C398.7,538.2 403.7,535.0 408.0,532.8 C412.3,530.6 416.0,529.2 420.0,528.5 C424.0,527.8 428.0,527.3 432.0,528.6 C436.0,529.9 440.3,532.4 444.0,536.2 C447.7,540.1 451.0,546.4 454.0,551.7 C457.0,557.1 459.3,562.6 462.0,568.5 C464.7,574.5 467.3,580.4 470.0,587.6 C472.7,594.9 475.2,604.2 478.0,612.0 C480.8,619.8 484.2,628.4 487.0,634.4 C489.8,640.4 491.9,643.9 494.6,648.2 C497.3,652.4 500.0,656.5 503.4,660.0 C506.8,663.5 511.3,666.7 514.7,669.3 C518.1,671.8 519.8,674.1 524.0,675.4 C528.2,676.7 521.0,676.7 540.0,677.0 C559.0,677.3 621.7,677.2 638.0,677.3" fill="none" stroke="#9a5a9a" stroke-width="1.0" stroke-linejoin="round" stroke-linecap="round" />
<path d="M66.0,679.3 C78.3,676.3 117.7,667.2 140.0,660.9 C162.3,654.7 180.0,648.4 200.0,641.8 C220.0,635.1 239.7,627.8 260.0,621.0 C280.3,614.2 307.3,606.5 322.0,601.0 C336.7,595.6 340.3,593.3 348.0,588.2 C355.7,583.1 362.5,575.4 368.0,570.3 C373.5,565.2 376.5,561.7 381.0,557.6 C385.5,553.5 390.3,549.2 395.0,545.9 C399.7,542.6 404.7,539.6 409.0,537.6 C413.3,535.6 417.0,534.3 421.0,533.8 C425.0,533.2 429.0,532.9 433.0,534.3 C437.0,535.7 441.3,538.2 445.0,542.0 C448.7,545.9 452.0,552.1 455.0,557.3 C458.0,562.6 460.3,567.9 463.0,573.6 C465.7,579.4 468.3,585.1 471.0,591.9 C473.7,598.8 476.2,607.5 479.0,614.8 C481.8,622.2 485.2,630.3 488.0,636.1 C490.8,641.8 492.9,645.3 495.6,649.4 C498.3,653.5 501.0,657.3 504.4,660.7 C507.8,664.1 512.4,667.2 515.7,669.7 C519.0,672.1 520.0,674.2 524.0,675.5 C528.0,676.7 521.0,676.7 540.0,677.0 C559.0,677.3 621.7,677.2 638.0,677.3" fill="none" stroke="#b860a8" stroke-width="1.0" stroke-linejoin="round" stroke-linecap="round" />
<path d="M66.0,669.9 C78.3,667.3 117.7,660.6 140.0,654.7 C162.3,648.7 180.0,641.0 200.0,634.1 C220.0,627.3 239.7,620.2 260.0,613.6 C280.3,607.0 307.7,599.2 322.0,594.4 C336.3,589.6 338.7,588.6 346.0,584.7 C353.3,580.7 360.5,575.1 366.0,571.0 C371.5,566.9 374.5,563.8 379.0,560.1 C383.5,556.3 388.3,551.8 393.0,548.5 C397.7,545.2 402.7,542.4 407.0,540.5 C411.3,538.6 415.0,537.4 419.0,537.0 C423.0,536.5 427.0,536.3 431.0,537.7 C435.0,539.1 439.3,541.7 443.0,545.5 C446.7,549.3 450.0,555.5 453.0,560.7 C456.0,565.9 458.3,571.1 461.0,576.7 C463.7,582.3 466.3,587.9 469.0,594.5 C471.7,601.1 474.2,609.4 477.0,616.5 C479.8,623.6 483.2,631.5 486.0,637.1 C488.8,642.7 490.9,646.1 493.6,650.1 C496.3,654.1 499.0,657.8 502.4,661.1 C505.8,664.4 510.1,667.5 513.7,669.9 C517.3,672.3 519.6,674.3 524.0,675.5 C528.4,676.7 521.0,676.7 540.0,677.0 C559.0,677.3 621.7,677.2 638.0,677.3" fill="none" stroke="#c880c0" stroke-width="1.0" stroke-linejoin="round" stroke-linecap="round" />
<path d="M66.0,685.3 C78.3,681.9 117.7,671.3 140.0,664.9 C162.3,658.4 180.0,653.0 200.0,646.5 C220.0,640.0 239.7,632.4 260.0,625.6 C280.3,618.8 307.8,611.2 322.0,605.9 C336.2,600.5 337.8,598.3 345.0,593.4 C352.2,588.4 359.5,581.2 365.0,576.2 C370.5,571.2 373.5,567.5 378.0,563.5 C382.5,559.4 387.3,555.1 392.0,551.9 C396.7,548.7 401.7,546.1 406.0,544.3 C410.3,542.5 414.0,541.5 418.0,541.2 C422.0,540.8 426.0,540.8 430.0,542.3 C434.0,543.8 438.3,546.3 442.0,550.1 C445.7,554.0 449.0,560.1 452.0,565.2 C455.0,570.3 457.3,575.3 460.0,580.8 C462.7,586.2 465.3,591.6 468.0,597.9 C470.7,604.3 473.2,612.0 476.0,618.7 C478.8,625.5 482.2,633.1 485.0,638.5 C487.8,643.8 489.9,647.2 492.6,651.1 C495.3,654.9 498.0,658.5 501.4,661.7 C504.8,664.9 508.9,667.9 512.7,670.2 C516.5,672.5 519.5,674.4 524.0,675.5 C528.5,676.7 521.0,676.7 540.0,677.0 C559.0,677.3 621.7,677.2 638.0,677.3" fill="none" stroke="#2a8a7a" stroke-width="1.0" stroke-linejoin="round" stroke-linecap="round" />
<path d="M66.0,675.8 C78.3,672.9 117.7,664.7 140.0,658.6 C162.3,652.4 180.0,645.6 200.0,638.9 C220.0,632.2 239.7,624.8 260.0,618.2 C280.3,611.6 308.0,603.9 322.0,599.1 C336.0,594.2 337.0,593.1 344.0,589.2 C351.0,585.2 358.5,579.6 364.0,575.4 C369.5,571.3 372.5,568.1 377.0,564.3 C381.5,560.5 386.3,556.0 391.0,552.8 C395.7,549.6 400.7,547.1 405.0,545.3 C409.3,543.5 413.0,542.6 417.0,542.2 C421.0,541.9 425.0,541.9 429.0,543.4 C433.0,544.9 437.3,547.5 441.0,551.3 C444.7,555.1 448.0,561.2 451.0,566.3 C454.0,571.4 456.3,576.4 459.0,581.8 C461.7,587.2 464.3,592.5 467.0,598.8 C469.7,605.0 472.2,612.6 475.0,619.3 C477.8,626.0 481.2,633.5 484.0,638.8 C486.8,644.1 488.9,647.5 491.6,651.3 C494.3,655.1 497.0,658.6 500.4,661.8 C503.8,665.0 507.8,668.0 511.7,670.3 C515.6,672.6 519.3,674.4 524.0,675.5 C528.7,676.7 521.0,676.7 540.0,677.0 C559.0,677.3 621.7,677.2 638.0,677.3" fill="none" stroke="#70c8c8" stroke-width="1.0" stroke-linejoin="round" stroke-linecap="round" />
<path d="M66.0,678.1 C78.3,675.1 117.7,666.4 140.0,660.1 C162.3,653.9 180.0,647.5 200.0,640.8 C220.0,634.1 239.7,626.7 260.0,620.0 C280.3,613.4 307.5,605.8 322.0,601.1 C336.5,596.4 339.5,595.4 347.0,591.6 C354.5,587.9 361.5,582.6 367.0,578.6 C372.5,574.6 375.5,571.4 380.0,567.7 C384.5,563.9 389.3,559.3 394.0,556.2 C398.7,553.2 403.7,550.8 408.0,549.1 C412.3,547.5 416.0,546.7 420.0,546.5 C424.0,546.3 428.0,546.4 432.0,547.9 C436.0,549.5 440.3,552.1 444.0,555.9 C447.7,559.7 451.0,565.8 454.0,570.8 C457.0,575.8 459.3,580.6 462.0,585.9 C464.7,591.1 467.3,596.3 470.0,602.2 C472.7,608.2 475.2,615.2 478.0,621.5 C480.8,627.9 484.2,635.0 487.0,640.2 C489.8,645.3 491.9,648.6 494.6,652.3 C497.3,656.0 500.0,659.3 503.4,662.4 C506.8,665.4 511.3,668.4 514.7,670.6 C518.1,672.8 519.8,674.5 524.0,675.6 C528.2,676.7 521.0,676.7 540.0,677.0 C559.0,677.3 621.7,677.2 638.0,677.3" fill="none" stroke="#c0609a" stroke-width="1.0" stroke-linejoin="round" stroke-linecap="round" />
<path d="M66.0,681.7 C78.3,678.5 117.7,668.8 140.0,662.5 C162.3,656.2 180.0,650.3 200.0,643.6 C220.0,637.0 239.7,629.4 260.0,622.8 C280.3,616.2 307.8,608.7 322.0,603.9 C336.2,599.2 337.8,598.1 345.0,594.3 C352.2,590.6 359.5,585.3 365.0,581.3 C370.5,577.3 373.5,573.9 378.0,570.2 C382.5,566.4 387.3,561.8 392.0,558.8 C396.7,555.8 401.7,553.5 406.0,552.0 C410.3,550.5 414.0,549.8 418.0,549.7 C422.0,549.5 426.0,549.7 430.0,551.4 C434.0,553.0 438.3,555.6 442.0,559.4 C445.7,563.2 449.0,569.2 452.0,574.1 C455.0,579.1 457.3,583.8 460.0,588.9 C462.7,594.1 465.3,599.1 468.0,604.8 C470.7,610.5 473.2,617.2 476.0,623.2 C478.8,629.3 482.2,636.2 485.0,641.2 C487.8,646.1 489.9,649.4 492.6,653.0 C495.3,656.6 498.0,659.8 501.4,662.8 C504.8,665.8 508.9,668.7 512.7,670.9 C516.5,673.0 519.5,674.6 524.0,675.6 C528.5,676.6 521.0,676.7 540.0,677.0 C559.0,677.3 621.7,677.2 638.0,677.3" fill="none" stroke="#6a6aa8" stroke-width="1.0" stroke-linejoin="round" stroke-linecap="round" />
<path d="M66.0,672.2 C78.3,669.6 117.7,662.3 140.0,656.2 C162.3,650.2 180.0,642.8 200.0,636.0 C220.0,629.2 239.7,621.9 260.0,615.4 C280.3,609.0 308.0,601.4 322.0,597.4 C336.0,593.3 337.0,593.6 344.0,591.1 C351.0,588.7 358.5,585.6 364.0,582.7 C369.5,579.8 372.5,576.9 377.0,573.5 C381.5,570.1 386.3,565.2 391.0,562.3 C395.7,559.3 400.7,557.3 405.0,555.9 C409.3,554.5 413.0,553.9 417.0,553.9 C421.0,553.9 425.0,554.2 429.0,555.9 C433.0,557.6 437.3,560.3 441.0,564.1 C444.7,567.8 448.0,573.8 451.0,578.6 C454.0,583.4 456.3,588.1 459.0,593.0 C461.7,598.0 464.3,602.9 467.0,608.3 C469.7,613.7 472.2,619.7 475.0,625.5 C477.8,631.2 481.2,637.8 484.0,642.5 C486.8,647.3 488.9,650.5 491.6,653.9 C494.3,657.4 497.0,660.5 500.4,663.3 C503.8,666.2 507.8,669.1 511.7,671.2 C515.6,673.2 519.3,674.7 524.0,675.7 C528.7,676.6 521.0,676.7 540.0,677.0 C559.0,677.3 621.7,677.2 638.0,677.3" fill="none" stroke="#5a4a8a" stroke-width="1.0" stroke-linejoin="round" stroke-linecap="round" />
<path d="M66.0,686.4 C78.3,683.0 117.7,672.1 140.0,665.6 C162.3,659.1 180.0,654.0 200.0,647.4 C220.0,640.9 239.7,633.1 260.0,626.5 C280.3,619.9 307.7,612.5 322.0,608.0 C336.3,603.4 338.7,602.6 346.0,599.3 C353.3,595.9 360.5,591.4 366.0,587.7 C371.5,584.0 374.5,580.6 379.0,576.9 C383.5,573.2 388.3,568.6 393.0,565.7 C397.7,562.8 402.7,561.0 407.0,559.7 C411.3,558.4 415.0,558.0 419.0,558.1 C423.0,558.2 427.0,558.7 431.0,560.4 C435.0,562.2 439.3,564.9 443.0,568.7 C446.7,572.5 450.0,578.4 453.0,583.1 C456.0,587.8 458.3,592.3 461.0,597.1 C463.7,601.9 466.3,606.6 469.0,611.7 C471.7,616.8 474.2,622.3 477.0,627.7 C479.8,633.1 483.2,639.4 486.0,643.9 C488.8,648.4 490.9,651.6 493.6,654.9 C496.3,658.2 499.0,661.1 502.4,663.9 C505.8,666.7 510.1,669.5 513.7,671.5 C517.3,673.5 519.6,674.8 524.0,675.7 C528.4,676.6 521.0,676.7 540.0,677.0 C559.0,677.3 621.7,677.2 638.0,677.3" fill="none" stroke="#a88868" stroke-width="1.0" stroke-linejoin="round" stroke-linecap="round" />
<path d="M66.0,674.6 C78.3,671.8 117.7,663.9 140.0,657.8 C162.3,651.7 180.0,644.7 200.0,637.9 C220.0,631.2 239.7,623.6 260.0,617.3 C280.3,610.9 307.8,603.4 322.0,599.7 C336.2,596.0 337.8,596.7 345.0,594.9 C352.2,593.1 359.5,591.2 365.0,588.7 C370.5,586.3 373.5,583.5 378.0,580.2 C382.5,577.0 387.3,571.9 392.0,569.1 C396.7,566.4 401.7,564.7 406.0,563.5 C410.3,562.4 414.0,562.1 418.0,562.4 C422.0,562.6 426.0,563.2 430.0,565.0 C434.0,566.8 438.3,569.6 442.0,573.3 C445.7,577.1 449.0,582.9 452.0,587.6 C455.0,592.2 457.3,596.6 460.0,601.2 C462.7,605.8 465.3,610.3 468.0,615.1 C470.7,619.9 473.2,624.9 476.0,629.9 C478.8,635.0 482.2,640.9 485.0,645.3 C487.8,649.6 489.9,652.7 492.6,655.9 C495.3,659.1 498.0,661.8 501.4,664.5 C504.8,667.1 508.9,669.9 512.7,671.8 C516.5,673.7 519.5,674.9 524.0,675.7 C528.5,676.6 521.0,676.7 540.0,677.0 C559.0,677.3 621.7,677.2 638.0,677.3" fill="none" stroke="#5a9080" stroke-width="1.0" stroke-linejoin="round" stroke-linecap="round" />
<path d="M66.0,680.5 C78.3,677.4 117.7,668.0 140.0,661.7 C162.3,655.4 180.0,649.3 200.0,642.7 C220.0,636.1 239.7,628.3 260.0,621.9 C280.3,615.5 307.8,608.1 322.0,604.5 C336.2,600.8 337.8,601.5 345.0,599.7 C352.2,598.0 359.5,596.3 365.0,593.9 C370.5,591.4 373.5,588.5 378.0,585.3 C382.5,582.0 387.3,577.0 392.0,574.3 C396.7,571.6 401.7,570.2 406.0,569.3 C410.3,568.4 414.0,568.3 418.0,568.7 C422.0,569.1 426.0,569.9 430.0,571.8 C434.0,573.7 438.3,576.5 442.0,580.3 C445.7,584.0 449.0,589.8 452.0,594.3 C455.0,598.8 457.3,603.0 460.0,607.3 C462.7,611.6 465.3,616.0 468.0,620.3 C470.7,624.6 473.2,628.8 476.0,633.3 C478.8,637.8 482.2,643.3 485.0,647.3 C487.8,651.3 489.9,654.3 492.6,657.3 C495.3,660.3 498.0,662.8 501.4,665.3 C504.8,667.8 508.9,670.5 512.7,672.3 C516.5,674.0 519.5,675.0 524.0,675.8 C528.5,676.6 521.0,676.8 540.0,677.0 C559.0,677.2 621.7,677.2 638.0,677.3" fill="none" stroke="#8a5a4a" stroke-width="1.0" stroke-linejoin="round" stroke-linecap="round" />
<path d="M66.0,683.0 C78.3,679.8 117.7,670.2 140.0,664.0 C162.3,657.8 180.0,652.8 200.0,646.0 C220.0,639.2 243.3,629.5 260.0,623.0 C276.7,616.5 289.7,611.3 300.0,607.0 C310.3,602.7 316.5,600.2 322.0,597.0 C327.5,593.8 329.8,591.3 333.0,588.0 C336.2,584.7 337.8,582.2 341.0,577.0 C344.2,571.8 348.0,564.0 352.0,557.0 C356.0,550.0 360.3,542.8 365.0,535.0 C369.7,527.2 375.2,517.3 380.0,510.0 C384.8,502.7 389.7,495.8 394.0,491.0 C398.3,486.2 401.9,483.3 406.0,481.0 C410.1,478.7 414.3,477.4 418.3,477.4 C422.3,477.4 426.7,478.2 430.0,481.0 C433.3,483.8 435.5,488.8 438.2,494.0 C440.9,499.2 443.0,504.3 446.0,512.0 C449.0,519.7 453.1,530.8 456.2,540.0 C459.3,549.2 462.3,559.7 464.8,567.0 C467.3,574.3 469.3,578.4 471.3,584.0 C473.3,589.6 474.9,595.1 476.7,600.4 C478.5,605.7 479.5,609.0 482.1,616.0 C484.8,623.0 489.4,635.9 492.6,642.6 C495.8,649.3 498.0,652.2 501.4,656.4 C504.8,660.6 509.2,664.8 512.7,667.7 C516.2,670.6 519.0,672.5 522.7,674.0 C526.4,675.5 515.8,676.5 535.0,677.0 C554.2,677.5 620.8,677.0 638.0,677.0" fill="none" stroke="#6060b8" stroke-width="1.1" stroke-linejoin="round" stroke-linecap="round" />
<path d="M66.0,695.0 C72.5,693.0 92.7,687.0 105.0,682.8 C117.3,678.6 127.9,674.2 140.0,670.0 C152.1,665.8 166.6,662.1 177.6,657.5 C188.6,652.9 198.0,647.8 205.8,642.5 C213.6,637.2 218.7,632.0 224.6,626.0 C230.5,620.0 236.6,612.7 241.2,606.5 C245.8,600.3 248.8,594.2 252.0,589.0 C255.2,583.8 257.6,580.2 260.6,575.0 C263.7,569.8 267.1,563.7 270.3,558.0 C273.5,552.3 276.7,547.0 280.0,541.0 C283.3,535.0 286.7,528.2 290.2,522.0 C293.7,515.8 297.6,508.9 301.0,504.0 C304.4,499.1 307.6,495.3 310.4,492.6 C313.2,489.9 315.7,489.1 318.0,488.0 C320.3,486.9 322.0,486.4 324.0,486.3 C326.0,486.2 327.5,485.8 330.0,487.5 C332.5,489.2 335.8,492.9 338.9,496.8 C342.0,500.7 345.2,505.8 348.4,511.0 C351.5,516.2 354.6,521.4 357.8,528.0 C361.0,534.6 364.4,543.4 367.3,550.7 C370.2,558.0 372.8,565.5 375.0,572.0 C377.2,578.5 379.0,584.9 380.7,590.0 C382.4,595.1 383.3,597.5 385.1,602.5 C386.9,607.5 389.2,615.1 391.3,620.1 C393.4,625.1 395.3,628.4 397.6,632.6 C399.9,636.8 402.6,641.6 405.1,645.2 C407.6,648.8 410.6,651.7 412.7,654.0 C414.8,656.3 415.2,656.9 417.9,659.0 C420.6,661.1 425.3,664.4 429.0,666.5 C432.7,668.6 434.8,670.1 440.0,671.5 C445.2,672.9 451.7,673.8 460.0,674.6 C468.3,675.4 460.3,675.9 490.0,676.3 C519.7,676.7 613.3,676.9 638.0,677.0" fill="none" stroke="#c04aa8" stroke-width="1.1" stroke-linejoin="round" stroke-linecap="round" />
<path d="M80.0,689.5 C84.2,688.4 95.0,686.3 105.0,683.0 C115.0,679.7 127.9,674.0 140.0,669.6 C152.1,665.2 166.6,661.1 177.6,656.4 C188.6,651.7 198.0,646.8 205.8,641.4 C213.6,636.0 218.9,630.2 224.6,624.0 C230.3,617.8 235.4,611.6 240.0,604.0 C244.6,596.4 248.0,587.0 252.1,578.3 C256.1,569.6 259.7,561.5 264.3,551.6 C268.9,541.7 275.0,530.2 280.0,519.0 C285.0,507.8 290.1,494.3 294.3,484.5 C298.5,474.7 301.7,466.7 305.1,460.2 C308.5,453.7 311.8,448.6 314.5,445.4 C317.2,442.2 319.4,441.7 321.5,440.9 C323.6,440.1 324.8,440.0 327.0,440.5 C329.2,441.0 332.1,441.1 335.0,444.0 C337.9,446.9 340.8,450.3 344.6,458.0 C348.4,465.7 353.5,477.9 357.9,490.2 C362.3,502.5 367.3,519.7 371.0,531.8 C374.7,543.9 377.0,553.3 380.2,563.0 C383.4,572.7 387.4,582.8 390.1,590.0 C392.8,597.2 394.3,601.3 396.4,606.3 C398.5,611.3 400.3,615.9 402.6,620.1 C404.9,624.3 407.6,627.9 410.2,631.4 C412.8,634.9 415.0,638.1 417.9,641.4 C420.8,644.7 424.0,648.3 427.7,651.4 C431.4,654.5 434.6,657.5 440.0,660.2 C445.4,662.9 451.7,665.3 460.0,667.5 C468.3,669.7 480.0,672.0 490.0,673.5 C500.0,675.0 495.3,675.9 520.0,676.5 C544.7,677.1 618.3,676.9 638.0,677.0" fill="none" stroke="#8ee2e6" stroke-width="1.2" stroke-linejoin="round" stroke-linecap="round" />
<path d="M66.0,680.0 C72.5,679.2 92.7,677.2 105.0,675.0 C117.3,672.8 127.9,670.2 140.0,667.0 C152.1,663.8 166.6,660.3 177.6,656.0 C188.6,651.7 198.0,646.6 205.8,641.4 C213.6,636.2 218.7,631.0 224.6,625.0 C230.5,619.0 236.4,613.1 241.2,605.5 C246.0,597.9 249.1,588.5 253.3,579.5 C257.6,570.5 261.6,561.8 266.7,551.6 C271.8,541.4 278.6,528.8 283.7,518.5 C288.8,508.2 293.3,497.9 297.0,490.0 C300.7,482.1 302.8,476.2 305.7,471.0 C308.6,465.8 311.8,461.6 314.5,458.9 C317.2,456.2 319.6,455.6 321.9,454.8 C324.1,454.0 325.2,453.4 328.0,454.3 C330.8,455.2 335.2,455.9 338.9,460.0 C342.6,464.1 346.7,471.6 350.2,478.9 C353.7,486.1 356.5,494.7 359.7,503.5 C362.9,512.3 366.0,522.7 369.1,531.8 C372.2,540.9 375.5,549.6 378.6,558.3 C381.8,567.0 385.4,576.5 388.0,584.0 C390.6,591.5 392.2,597.3 394.4,603.0 C396.6,608.7 398.6,613.4 401.0,618.0 C403.4,622.6 406.2,626.7 409.0,630.4 C411.8,634.1 414.8,637.1 417.9,640.4 C421.0,643.7 424.0,647.3 427.7,650.4 C431.4,653.5 434.2,656.2 440.0,659.2 C445.8,662.2 452.6,665.9 462.7,668.5 C472.8,671.1 489.9,673.4 500.3,674.8 C510.7,676.2 502.1,676.6 525.0,677.0 C548.0,677.4 619.2,677.0 638.0,677.0" fill="none" stroke="#4a6a60" stroke-width="1.1" stroke-linejoin="round" stroke-linecap="round" />
<path d="M66.0,682.8 C71.3,681.5 86.1,678.1 97.6,675.2 C109.1,672.3 122.6,668.8 135.2,665.2 C147.8,661.7 162.1,657.4 172.9,653.9 C183.7,650.4 191.4,647.3 200.0,644.0 C208.6,640.7 216.3,637.7 224.6,634.0 C232.9,630.3 243.2,626.1 250.0,621.9 C256.9,617.7 260.5,612.9 265.7,608.6 C270.9,604.3 276.1,599.9 281.3,596.0 C286.5,592.1 291.8,588.2 297.0,585.1 C302.2,582.0 308.5,578.9 312.7,577.2 C316.9,575.5 317.7,575.4 322.1,574.9 C326.5,574.4 332.9,574.0 338.9,574.4 C344.8,574.8 350.9,575.8 357.8,577.5 C364.7,579.2 374.0,582.7 380.2,584.5 C386.4,586.3 388.8,586.5 395.0,588.5 C401.2,590.5 411.9,594.2 417.7,596.5 C423.5,598.8 426.3,600.1 430.0,602.0 C433.7,603.9 436.4,605.2 440.0,607.6 C443.6,610.0 447.8,613.1 451.3,616.4 C454.9,619.7 458.0,623.8 461.3,627.6 C464.6,631.4 467.8,635.2 471.4,639.0 C475.0,642.8 479.1,646.9 482.7,650.2 C486.2,653.5 488.9,656.3 492.7,659.0 C496.4,661.7 501.4,664.4 505.2,666.5 C509.0,668.6 511.8,670.0 515.4,671.5 C519.0,673.0 522.1,674.5 527.0,675.5 C531.9,676.5 526.5,677.3 545.0,677.6 C563.5,677.9 622.5,677.3 638.0,677.3" fill="none" stroke="#1f2fd0" stroke-width="2.4" stroke-linejoin="round" stroke-linecap="round" />
<path d="M66.0,675.2 C71.3,674.6 85.3,674.0 97.6,671.5 C109.9,669.0 127.5,663.6 140.0,660.2 C152.6,656.9 163.5,654.4 172.9,651.4 C182.3,648.4 187.8,645.4 196.4,642.3 C205.0,639.2 215.7,636.2 224.6,632.9 C233.5,629.6 243.2,626.0 250.0,622.7 C256.9,619.4 260.5,616.6 265.7,613.3 C270.9,610.0 276.1,606.4 281.3,603.1 C286.5,599.8 291.8,596.6 297.0,593.7 C302.2,590.8 308.5,587.6 312.7,585.9 C316.9,584.1 317.7,584.2 322.1,583.2 C326.5,582.2 332.9,580.4 338.9,580.0 C344.8,579.6 350.9,580.6 357.8,581.0 C364.7,581.4 373.1,582.1 380.2,582.5 C387.3,582.9 394.2,583.4 400.5,583.5 C406.8,583.6 412.8,582.6 417.7,582.9 C422.6,583.1 425.9,583.4 430.0,585.0 C434.1,586.6 438.9,589.4 442.5,592.5 C446.1,595.6 449.8,601.9 451.3,603.8" fill="none" stroke="#e01f2f" stroke-width="2.4" stroke-linejoin="round" stroke-linecap="round" />
<path d="M451.3,603.8 C453.0,606.1 458.0,613.2 461.3,617.6 C464.6,622.0 468.2,626.2 471.4,630.2 C474.5,634.2 477.3,638.1 480.2,641.4 C483.1,644.7 485.6,647.1 488.9,650.2 C492.2,653.4 498.3,658.6 500.2,660.3" fill="none" stroke="#e01f2f" stroke-width="2.4" stroke-dasharray="3.6,2.2"/>
<path d="M500.2,660.3 C502.2,661.7 508.0,666.0 512.0,668.5 C516.0,671.0 519.3,673.4 524.0,675.0 C528.7,676.6 521.4,677.5 540.4,678.0 C559.4,678.5 621.7,678.0 638.0,678.0" fill="none" stroke="#e01f2f" stroke-width="2.0" stroke-linejoin="round" stroke-linecap="round" />
<line x1="322.2" y1="440.7" x2="322.2" y2="693.6" stroke="#6a6a6a" stroke-width="1.3"/>
<line x1="418.2" y1="440.7" x2="418.2" y2="693.6" stroke="#5a5ab0" stroke-width="1.3"/>
<text x="220" y="444.9" font-size="15" text-anchor="start" font-weight="normal" fill="#111" letter-spacing="0.1">Duffy pos</text>
<text x="226" y="463.4" font-size="15" text-anchor="start" font-weight="normal" fill="#111" letter-spacing="0.1">(-33TT)</text>
<text x="347" y="454.2" font-size="15" text-anchor="start" font-weight="normal" fill="#111" letter-spacing="0.1">Reference</text>
<text x="354" y="471.5" font-size="15" text-anchor="start" font-weight="normal" fill="#111" letter-spacing="0.1">samples</text>
<text x="495.6" y="581.5" font-size="15" text-anchor="start" font-weight="normal" fill="#111" letter-spacing="0.1">Nested PCR</text>
<text x="324" y="636.2" font-size="15" text-anchor="start" font-weight="normal" fill="#111" letter-spacing="-0.1">Heterozygous</text>
<text x="345.2" y="654.8" font-size="15" text-anchor="start" font-weight="normal" fill="#111" letter-spacing="0.35">(-33TC)</text>
<text x="142.5" y="698.8" font-size="15" text-anchor="start" font-weight="normal" fill="#111" letter-spacing="0.1">Negative controls</text>
<line x1="284" y1="452.5" x2="304" y2="459" stroke="#222" stroke-width="1.1" marker-end="url(#ah)"/>
<line x1="284" y1="452.5" x2="305" y2="471.5" stroke="#222" stroke-width="1.1" marker-end="url(#ah)"/>
<line x1="374.8" y1="478.9" x2="347.4" y2="499.7" stroke="#222" stroke-width="1.1" marker-end="url(#ah)"/>
<line x1="374.8" y1="478.9" x2="391.5" y2="491.2" stroke="#222" stroke-width="1.1" marker-end="url(#ah)"/>
<line x1="493" y1="576.6" x2="474.1" y2="576.6" stroke="#222" stroke-width="1.1" marker-end="url(#ah)"/>
<line x1="379.5" y1="620.5" x2="331.8" y2="581.5" stroke="#222" stroke-width="1.1" marker-end="url(#ah)"/>
<line x1="379.5" y1="620.5" x2="403.5" y2="594.7" stroke="#222" stroke-width="1.1" marker-end="url(#ah)"/>
<line x1="197.5" y1="684" x2="202" y2="673.6" stroke="#222" stroke-width="1.1" marker-end="url(#ah)"/>
</svg>
</body></html>
